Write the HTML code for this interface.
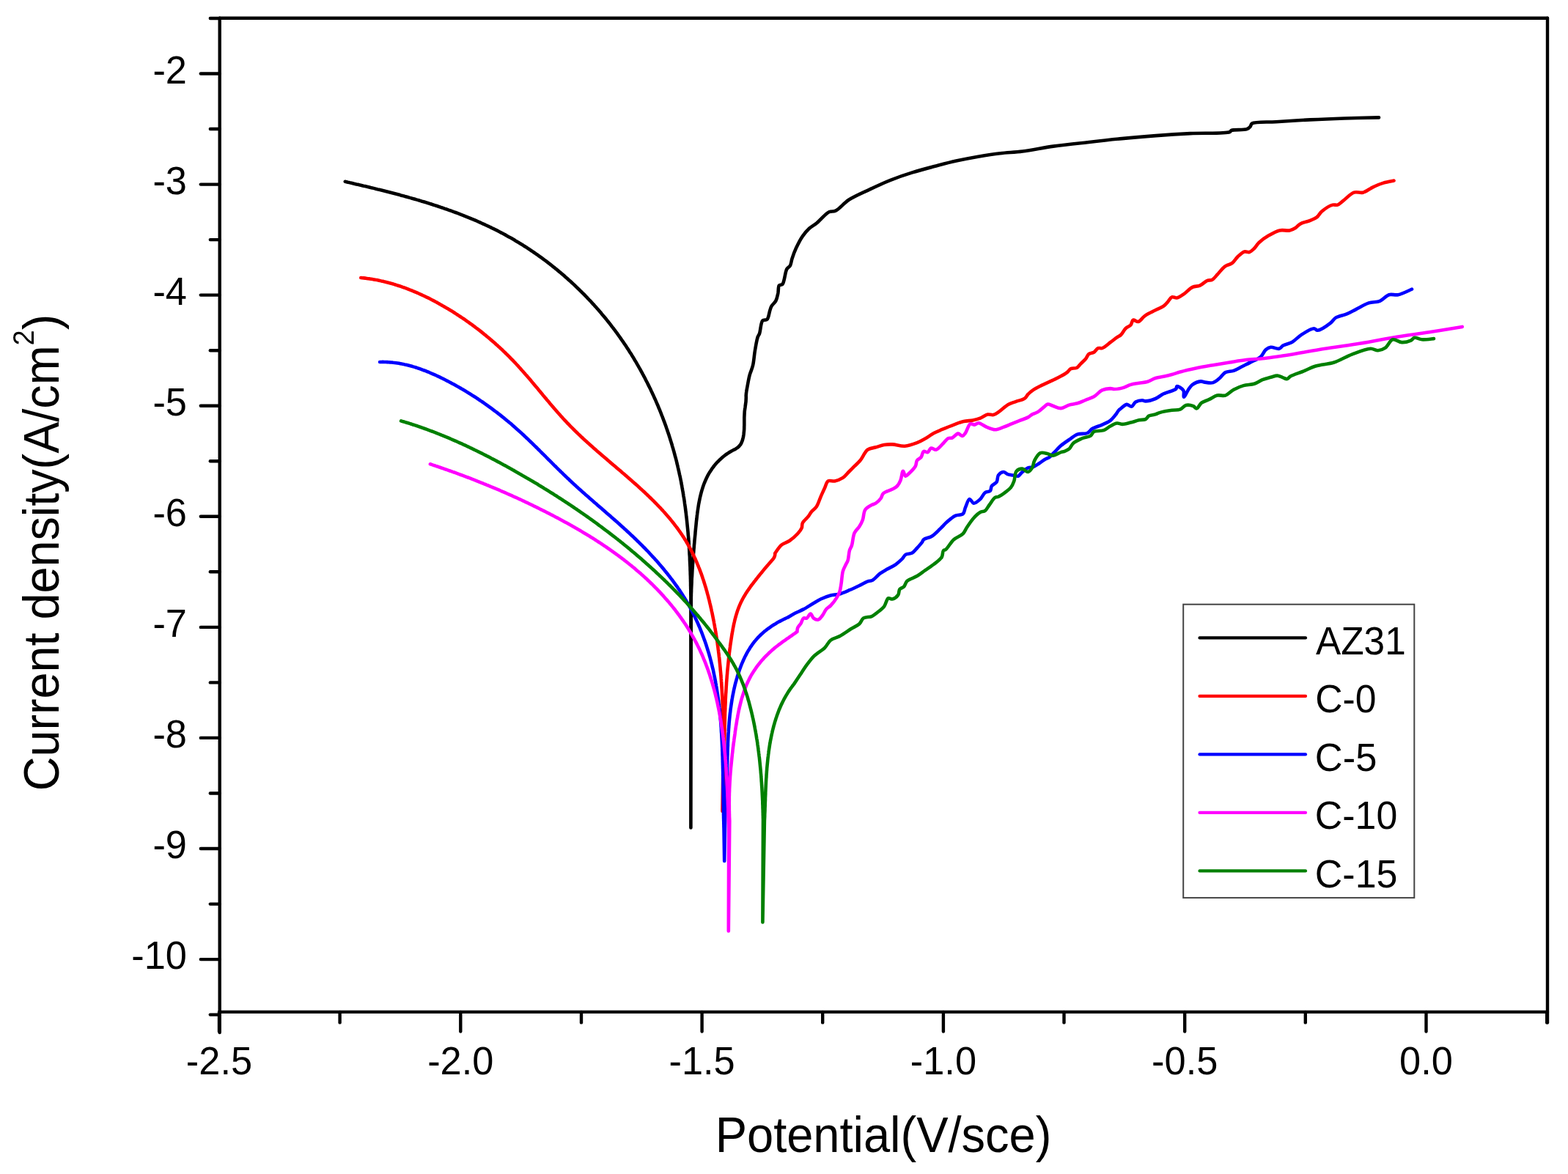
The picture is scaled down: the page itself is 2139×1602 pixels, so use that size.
<!DOCTYPE html>
<html><head><meta charset="utf-8"><title>Potentiodynamic polarization curves</title>
<style>
html,body{margin:0;padding:0;background:#fff;}
body{width:2139px;height:1602px;overflow:hidden;}
svg{display:block;}
text{font-family:'Liberation Sans', Arial, Helvetica, sans-serif;fill:#000;}
</style></head><body>
<svg width="2139" height="1602" viewBox="0 0 2139 1602">
<rect x="0" y="0" width="2139" height="1602" fill="#fff"/>

<g fill="none" stroke-width="4.6" stroke-linejoin="round" stroke-linecap="round">
<path stroke="#000000" d="M470.8,247.8 L472.7,248.2 L474.7,248.7 L476.6,249.1 L478.5,249.6 L480.5,250.0 L482.4,250.5 L484.3,250.9 L486.3,251.4 L488.2,251.8 L490.2,252.3 L492.1,252.7 L494.0,253.2 L496.0,253.7 L497.9,254.1 L499.9,254.6 L501.8,255.0 L503.8,255.5 L505.7,256.0 L507.7,256.4 L509.6,256.9 L511.5,257.4 L513.5,257.9 L515.4,258.4 L517.4,258.8 L519.3,259.3 L521.3,259.8 L523.2,260.3 L525.2,260.8 L527.1,261.3 L529.1,261.8 L531.0,262.3 L533.0,262.8 L534.9,263.3 L536.9,263.8 L538.8,264.3 L540.8,264.8 L542.7,265.3 L544.7,265.8 L546.6,266.4 L548.6,266.9 L550.5,267.4 L552.5,268.0 L554.4,268.5 L556.3,269.0 L558.3,269.6 L560.2,270.1 L562.2,270.7 L564.1,271.2 L566.0,271.8 L568.0,272.4 L569.9,272.9 L571.9,273.5 L573.8,274.1 L575.7,274.7 L577.7,275.2 L579.6,275.8 L581.5,276.4 L583.4,277.0 L585.4,277.6 L587.3,278.2 L589.2,278.8 L591.1,279.5 L593.1,280.1 L595.0,280.7 L596.9,281.3 L598.8,282.0 L600.7,282.6 L602.6,283.3 L604.5,283.9 L606.4,284.6 L608.3,285.2 L610.2,285.9 L612.1,286.6 L614.0,287.2 L615.9,287.9 L617.8,288.6 L619.7,289.3 L621.6,290.0 L623.5,290.7 L625.4,291.4 L627.2,292.1 L629.1,292.9 L631.0,293.6 L632.9,294.3 L634.7,295.1 L636.6,295.8 L638.5,296.6 L640.3,297.3 L642.2,298.1 L644.0,298.9 L645.9,299.6 L647.7,300.4 L649.6,301.2 L651.4,302.0 L653.3,302.8 L655.1,303.6 L656.9,304.5 L658.7,305.3 L660.6,306.1 L662.4,307.0 L664.2,307.8 L666.0,308.7 L667.8,309.5 L669.6,310.4 L671.4,311.3 L673.2,312.1 L675.0,313.0 L676.8,313.9 L678.6,314.8 L680.4,315.8 L682.2,316.7 L683.9,317.6 L685.7,318.5 L687.5,319.5 L689.2,320.4 L691.0,321.4 L692.7,322.4 L694.5,323.4 L696.2,324.3 L698.0,325.3 L699.7,326.3 L701.4,327.3 L703.1,328.4 L704.9,329.4 L706.6,330.4 L708.3,331.5 L710.0,332.5 L711.7,333.6 L713.4,334.6 L715.1,335.7 L716.8,336.8 L718.5,337.8 L720.1,338.9 L721.8,340.0 L723.5,341.1 L725.1,342.3 L726.8,343.4 L728.4,344.5 L730.1,345.7 L731.7,346.8 L733.4,347.9 L735.0,349.1 L736.6,350.3 L738.3,351.4 L739.9,352.6 L741.5,353.8 L743.1,355.0 L744.7,356.2 L746.3,357.4 L747.9,358.6 L749.5,359.8 L751.1,361.1 L752.6,362.3 L754.2,363.6 L755.8,364.8 L757.3,366.1 L758.9,367.3 L760.4,368.6 L762.0,369.9 L763.5,371.2 L765.1,372.4 L766.6,373.7 L768.1,375.0 L769.6,376.3 L771.1,377.7 L772.6,379.0 L774.1,380.3 L775.6,381.7 L777.1,383.0 L778.6,384.3 L780.1,385.7 L781.6,387.1 L783.0,388.4 L784.5,389.8 L785.9,391.2 L787.4,392.6 L788.8,394.0 L790.3,395.4 L791.7,396.8 L793.1,398.2 L794.5,399.6 L796.0,401.0 L797.4,402.4 L798.8,403.9 L800.2,405.3 L801.5,406.8 L802.9,408.2 L804.3,409.7 L805.7,411.1 L807.0,412.6 L808.4,414.1 L809.8,415.6 L811.1,417.1 L812.4,418.5 L813.8,420.0 L815.1,421.6 L816.4,423.1 L817.7,424.6 L819.0,426.1 L820.3,427.6 L821.6,429.2 L822.9,430.7 L824.2,432.2 L825.5,433.8 L826.7,435.3 L828.0,436.9 L829.3,438.5 L830.5,440.0 L831.8,441.6 L833.0,443.2 L834.2,444.8 L835.4,446.4 L836.7,448.0 L837.9,449.6 L839.1,451.2 L840.3,452.8 L841.5,454.4 L842.6,456.0 L843.8,457.7 L845.0,459.3 L846.1,460.9 L847.3,462.6 L848.4,464.2 L849.6,465.9 L850.7,467.5 L851.8,469.2 L853.0,470.8 L854.1,472.5 L855.2,474.2 L856.3,475.9 L857.4,477.5 L858.4,479.2 L859.5,480.9 L860.6,482.6 L861.7,484.3 L862.7,486.0 L863.8,487.7 L864.8,489.5 L865.8,491.2 L866.9,492.9 L867.9,494.6 L868.9,496.4 L869.9,498.1 L870.9,499.8 L871.9,501.6 L872.9,503.3 L873.9,505.1 L874.8,506.8 L875.8,508.6 L876.7,510.4 L877.7,512.1 L878.6,513.9 L879.6,515.7 L880.5,517.5 L881.4,519.3 L882.3,521.0 L883.2,522.8 L884.1,524.6 L885.0,526.4 L885.9,528.2 L886.8,530.0 L887.7,531.8 L888.5,533.7 L889.4,535.5 L890.2,537.3 L891.1,539.1 L891.9,540.9 L892.7,542.8 L893.6,544.6 L894.4,546.4 L895.2,548.3 L896.0,550.1 L896.8,552.0 L897.6,553.8 L898.3,555.7 L899.1,557.5 L899.9,559.4 L900.6,561.2 L901.4,563.1 L902.1,565.0 L902.8,566.8 L903.6,568.7 L904.3,570.6 L905.0,572.5 L905.7,574.4 L906.4,576.2 L907.1,578.1 L907.8,580.0 L908.5,581.9 L909.1,583.8 L909.8,585.7 L910.4,587.6 L911.1,589.5 L911.7,591.4 L912.4,593.3 L913.0,595.2 L913.6,597.1 L914.2,599.0 L914.8,601.0 L915.4,602.9 L916.0,604.8 L916.6,606.7 L917.1,608.6 L917.7,610.6 L918.3,612.5 L918.8,614.4 L919.4,616.4 L919.9,618.3 L920.4,620.2 L920.9,622.2 L921.5,624.1 L922.0,626.0 L922.5,628.0 L923.0,629.9 L923.4,631.9 L923.9,633.8 L924.4,635.8 L924.8,637.7 L925.3,639.7 L925.7,641.6 L926.2,643.6 L926.6,645.6 L927.0,647.5 L927.5,649.5 L927.9,651.4 L928.3,653.4 L928.7,655.4 L929.1,657.3 L929.4,659.3 L929.8,661.3 L930.2,663.2 L930.5,665.2 L930.9,667.2 L931.2,669.2 L931.6,671.1 L931.9,673.1 L932.2,675.1 L932.5,677.1 L932.9,679.0 L933.2,681.0 L933.5,683.0 L933.8,685.0 L934.0,687.0 L934.3,689.0 L934.6,690.9 L934.9,692.9 L935.1,694.9 L935.4,696.9 L935.6,698.9 L935.9,700.9 L936.1,702.9 L936.3,704.9 L936.6,706.9 L936.8,708.8 L937.0,710.8 L937.2,712.8 L937.4,714.8 L937.6,716.8 L937.8,718.8 L938.0,720.8 L938.2,722.8 L938.4,724.8 L938.6,726.8 L938.7,728.8 L938.9,730.8 L939.1,732.8 L939.2,734.8 L939.4,736.8 L939.5,738.8 L939.7,740.8 L939.8,742.8 L939.9,744.8 L940.1,746.8 L940.2,748.8 L940.3,750.8 L940.4,752.8 L940.5,754.8 L940.6,756.8 L940.8,758.9 L940.9,760.9 L940.9,762.9 L941.0,764.9 L941.1,766.9 L941.2,768.9 L941.3,770.9 L941.4,772.9 L941.5,774.9 L941.5,776.9 L941.6,778.9 L941.7,780.9 L941.7,782.9 L941.8,784.9 L941.9,786.9 L941.9,788.9 L942.0,790.9 L942.0,793.0 L942.1,795.0 L942.1,797.0 L942.1,799.0 L942.2,801.0 L942.2,803.0 L942.3,805.0 L942.3,807.0 L942.3,809.0 L942.3,811.0 L942.4,813.0 L942.4,815.0 L942.4,1129.5 L942.8,815.0 L942.8,815.0 L942.9,813.0 L942.9,810.9 L943.0,808.9 L943.1,806.8 L943.1,804.8 L943.2,802.8 L943.3,800.7 L943.4,798.7 L943.5,796.7 L943.6,794.7 L943.6,792.6 L943.7,790.6 L943.8,788.6 L944.0,786.6 L944.1,784.6 L944.2,782.6 L944.3,780.6 L944.4,778.6 L944.5,776.6 L944.7,774.6 L944.8,772.6 L944.9,770.6 L945.1,768.6 L945.2,766.6 L945.4,764.6 L945.5,762.6 L945.6,760.6 L945.8,758.6 L945.9,756.6 L946.1,754.6 L946.3,752.6 L946.4,750.6 L946.6,748.6 L946.8,746.6 L946.9,744.6 L947.1,742.6 L947.3,740.6 L947.4,738.6 L947.6,736.6 L947.8,734.6 L948.0,732.6 L948.2,730.6 L948.4,728.5 L948.5,726.5 L948.7,724.5 L948.9,722.5 L949.1,720.4 L949.3,718.4 L949.5,716.4 L949.7,714.3 L949.9,712.3 L950.1,710.3 L950.4,708.2 L950.6,706.2 L950.8,704.2 L951.1,702.1 L951.3,700.1 L951.6,698.1 L951.9,696.0 L952.2,694.0 L952.5,692.0 L952.8,690.0 L953.1,688.0 L953.5,686.0 L953.9,684.0 L954.3,682.0 L954.7,680.0 L955.1,678.1 L955.6,676.1 L956.1,674.1 L956.6,672.2 L957.1,670.3 L957.7,668.4 L958.3,666.4 L958.9,664.6 L959.5,662.7 L960.2,660.8 L960.9,659.0 L961.7,657.1 L962.5,655.3 L963.3,653.5 L964.1,651.7 L965.0,649.9 L965.9,648.2 L966.9,646.5 L967.9,644.7 L969.0,643.1 L970.1,641.4 L971.2,639.7 L972.4,638.1 L973.6,636.5 L974.8,634.9 L976.2,633.3 L977.5,631.8 L978.9,630.3 L980.4,628.8 L981.8,627.4 L983.4,626.0 L984.9,624.6 L986.5,623.3 L988.1,622.0 L989.8,620.7 L991.5,619.5 L993.2,618.4 L994.9,617.3 L996.6,616.2 L998.4,615.2 L1000.2,614.3 L1002.0,613.4 L1003.7,612.4 L1005.3,611.4 L1006.8,610.3 L1008.2,609.0 L1009.4,607.6 L1010.5,606.1 L1011.4,604.4 L1012.1,602.6 L1012.8,600.8 L1013.3,598.9 L1013.8,597.0 L1014.2,595.0 L1014.5,593.0 L1014.7,590.9 L1014.9,588.9 L1015.1,586.8 L1015.2,584.7 L1015.2,582.6 L1015.3,580.5 L1015.3,578.4 L1015.3,576.2 L1015.3,574.1 L1015.3,572.0 L1015.3,569.9 L1015.4,567.9 L1015.5,565.8 L1015.6,563.8 L1015.7,561.8 L1015.9,559.9 L1016.2,558.0 L1016.5,556.0 L1016.7,554.1 L1017.0,552.2 L1017.2,550.3 L1017.5,548.3 L1017.6,546.3 L1017.7,544.3 L1017.8,542.2 L1017.7,540.0 M1017.7,540.0 C1017.8,539.1 1017.9,536.7 1018.2,534.8 C1018.5,532.5 1019.0,530.2 1019.5,527.3 C1020.3,523.2 1021.2,517.1 1022.5,512.3 C1023.7,507.6 1025.8,503.9 1027.0,498.8 C1028.5,492.6 1028.8,484.5 1030.0,477.8 C1031.1,471.6 1032.3,463.8 1033.7,459.9 C1034.4,457.8 1035.2,457.5 1036.0,455.4 C1037.5,451.5 1037.7,440.1 1040.4,437.4 C1042.0,435.8 1044.9,437.3 1046.4,435.9 C1048.6,433.8 1049.1,427.2 1050.2,423.9 C1051.0,421.5 1051.3,419.9 1052.4,417.9 C1053.8,415.4 1056.9,413.3 1058.4,410.4 C1060.0,407.3 1060.6,403.4 1061.4,399.9 C1062.1,396.4 1061.4,391.3 1062.9,389.4 C1063.9,388.2 1066.1,389.3 1067.4,387.9 C1070.2,385.0 1070.9,371.2 1073.4,367.0 C1074.8,364.7 1076.8,364.5 1077.9,362.5 C1079.3,360.1 1079.4,356.5 1080.5,353.0 C1081.9,348.7 1083.7,343.5 1086.0,338.6 C1088.5,333.2 1091.7,326.8 1095.0,322.1 C1097.8,318.1 1100.6,314.7 1103.9,311.7 C1107.1,308.8 1110.6,307.3 1114.4,304.2 C1119.4,300.2 1125.9,291.6 1130.9,289.2 C1134.1,287.7 1136.5,289.2 1139.8,287.7 C1145.0,285.3 1150.9,277.3 1157.8,272.8 C1165.6,267.7 1175.4,263.7 1184.7,259.3 C1194.4,254.7 1204.6,249.8 1214.7,245.8 C1224.6,241.9 1234.6,238.5 1244.6,235.4 C1254.5,232.3 1264.5,229.7 1274.5,227.1 C1284.5,224.5 1294.4,221.8 1304.4,219.6 C1314.3,217.4 1324.3,215.4 1334.3,213.7 C1344.3,212.0 1354.2,210.4 1364.3,209.2 C1374.5,208.0 1384.0,207.9 1395.0,206.5 C1407.9,204.9 1422.5,201.6 1436.8,199.6 C1451.9,197.5 1467.9,195.9 1483.5,194.2 C1499.1,192.4 1514.7,190.6 1530.3,189.1 C1545.9,187.6 1561.4,186.3 1577.0,185.1 C1592.6,183.9 1607.7,182.9 1623.8,182.1 C1641.1,181.2 1671.4,182.8 1677.5,180.2 C1679.0,179.6 1678.5,178.5 1679.9,177.9 C1683.3,176.4 1696.5,177.8 1700.9,176.2 C1703.2,175.3 1704.4,174.1 1705.6,172.7 C1706.7,171.5 1706.2,169.6 1707.9,168.5 C1712.4,165.6 1728.7,167.0 1740.6,166.2 C1754.8,165.3 1771.8,164.2 1787.4,163.4 C1803.0,162.6 1818.5,162.0 1834.1,161.5 C1849.7,161.0 1873.2,160.6 1881.0,160.4"/>
<path stroke="#ff0000" d="M492.3,379.0 L494.3,379.2 L496.3,379.4 L498.3,379.6 L500.3,379.9 L502.3,380.2 L504.3,380.4 L506.2,380.7 L508.2,381.1 L510.2,381.4 L512.2,381.8 L514.1,382.1 L516.1,382.5 L518.1,382.9 L520.0,383.4 L522.0,383.8 L523.9,384.3 L525.8,384.7 L527.8,385.2 L529.7,385.7 L531.6,386.2 L533.6,386.8 L535.5,387.3 L537.4,387.9 L539.3,388.5 L541.2,389.1 L543.1,389.7 L545.0,390.3 L546.9,390.9 L548.8,391.6 L550.7,392.3 L552.6,392.9 L554.5,393.6 L556.3,394.3 L558.2,395.1 L560.1,395.8 L561.9,396.5 L563.8,397.3 L565.6,398.1 L567.5,398.9 L569.3,399.7 L571.2,400.5 L573.0,401.3 L574.8,402.1 L576.6,403.0 L578.5,403.8 L580.3,404.7 L582.1,405.6 L583.9,406.4 L585.7,407.3 L587.5,408.3 L589.3,409.2 L591.1,410.1 L592.8,411.0 L594.6,412.0 L596.4,412.9 L598.2,413.9 L599.9,414.9 L601.7,415.9 L603.4,416.9 L605.2,417.9 L606.9,418.9 L608.6,419.9 L610.4,420.9 L612.1,422.0 L613.8,423.0 L615.5,424.1 L617.2,425.1 L619.0,426.2 L620.7,427.3 L622.3,428.4 L624.0,429.5 L625.7,430.6 L627.4,431.7 L629.1,432.8 L630.7,433.9 L632.4,435.0 L634.1,436.2 L635.7,437.3 L637.3,438.5 L639.0,439.6 L640.6,440.8 L642.3,442.0 L643.9,443.2 L645.5,444.4 L647.1,445.5 L648.7,446.8 L650.3,448.0 L651.9,449.2 L653.5,450.4 L655.1,451.6 L656.7,452.9 L658.2,454.1 L659.8,455.4 L661.3,456.7 L662.9,457.9 L664.4,459.2 L666.0,460.5 L667.5,461.8 L669.0,463.1 L670.6,464.4 L672.1,465.7 L673.6,467.0 L675.1,468.3 L676.6,469.7 L678.1,471.0 L679.6,472.4 L681.1,473.7 L682.5,475.1 L684.0,476.4 L685.5,477.8 L686.9,479.2 L688.4,480.6 L689.8,482.0 L691.2,483.4 L692.7,484.8 L694.1,486.2 L695.5,487.6 L696.9,489.1 L698.3,490.5 L699.7,491.9 L701.1,493.4 L702.5,494.8 L703.8,496.3 L705.2,497.8 L706.6,499.2 L707.9,500.7 L709.3,502.2 L710.6,503.7 L711.9,505.2 L713.3,506.7 L714.6,508.2 L715.9,509.7 L717.2,511.2 L718.6,512.7 L719.9,514.3 L721.2,515.8 L722.5,517.3 L723.8,518.8 L725.1,520.4 L726.4,521.9 L727.7,523.4 L728.9,525.0 L730.2,526.5 L731.5,528.1 L732.8,529.6 L734.1,531.1 L735.4,532.7 L736.7,534.2 L737.9,535.8 L739.2,537.3 L740.5,538.9 L741.8,540.4 L743.1,542.0 L744.4,543.5 L745.6,545.0 L746.9,546.6 L748.2,548.1 L749.5,549.6 L750.8,551.2 L752.1,552.7 L753.4,554.2 L754.7,555.7 L756.0,557.3 L757.3,558.8 L758.6,560.3 L759.9,561.8 L761.2,563.3 L762.6,564.8 L763.9,566.3 L765.2,567.8 L766.6,569.2 L767.9,570.7 L769.3,572.2 L770.6,573.7 L772.0,575.1 L773.3,576.6 L774.7,578.0 L776.1,579.4 L777.5,580.9 L778.9,582.3 L780.3,583.7 L781.7,585.1 L783.1,586.5 L784.5,587.9 L785.9,589.3 L787.4,590.7 L788.8,592.1 L790.2,593.4 L791.7,594.8 L793.1,596.2 L794.6,597.5 L796.0,598.9 L797.5,600.2 L799.0,601.6 L800.5,602.9 L801.9,604.3 L803.4,605.6 L804.9,606.9 L806.4,608.3 L807.9,609.6 L809.4,610.9 L810.9,612.2 L812.4,613.5 L813.9,614.9 L815.4,616.2 L816.9,617.5 L818.4,618.8 L819.9,620.1 L821.4,621.4 L823.0,622.7 L824.5,624.0 L826.0,625.3 L827.5,626.6 L829.1,628.0 L830.6,629.3 L832.1,630.6 L833.7,631.9 L835.2,633.2 L836.7,634.5 L838.3,635.8 L839.8,637.1 L841.3,638.4 L842.9,639.7 L844.4,641.0 L846.0,642.3 L847.5,643.6 L849.0,645.0 L850.6,646.3 L852.1,647.6 L853.6,648.9 L855.2,650.2 L856.7,651.6 L858.2,652.9 L859.8,654.2 L861.3,655.6 L862.8,656.9 L864.3,658.2 L865.8,659.6 L867.4,660.9 L868.9,662.3 L870.4,663.6 L871.9,665.0 L873.4,666.4 L874.9,667.7 L876.4,669.1 L877.9,670.5 L879.3,671.8 L880.8,673.2 L882.3,674.6 L883.7,676.0 L885.2,677.4 L886.6,678.8 L888.1,680.2 L889.5,681.6 L891.0,683.0 L892.4,684.5 L893.8,685.9 L895.2,687.3 L896.6,688.8 L898.0,690.2 L899.4,691.7 L900.8,693.1 L902.1,694.6 L903.5,696.0 L904.8,697.5 L906.2,699.0 L907.5,700.5 L908.8,702.0 L910.1,703.5 L911.4,705.0 L912.7,706.5 L914.0,708.0 L915.3,709.6 L916.5,711.1 L917.8,712.7 L919.0,714.2 L920.2,715.8 L921.4,717.4 L922.6,718.9 L923.8,720.5 L925.0,722.1 L926.1,723.7 L927.3,725.4 L928.4,727.0 L929.5,728.6 L930.6,730.3 L931.7,731.9 L932.8,733.6 L933.8,735.2 L934.9,736.9 L935.9,738.6 L936.9,740.3 L937.9,742.0 L938.9,743.8 L939.9,745.5 L940.8,747.2 L941.7,749.0 L942.7,750.7 L943.6,752.5 L944.5,754.3 L945.3,756.1 L946.2,757.9 L947.0,759.7 L947.9,761.5 L948.7,763.3 L949.5,765.1 L950.3,766.9 L951.1,768.8 L951.8,770.6 L952.6,772.5 L953.3,774.3 L954.1,776.2 L954.8,778.1 L955.5,780.0 L956.2,781.9 L956.9,783.7 L957.5,785.6 L958.2,787.5 L958.8,789.5 L959.5,791.4 L960.1,793.3 L960.7,795.2 L961.3,797.1 L961.9,799.1 L962.5,801.0 L963.1,802.9 L963.6,804.9 L964.2,806.8 L964.7,808.8 L965.2,810.7 L965.8,812.7 L966.3,814.6 L966.8,816.6 L967.3,818.5 L967.8,820.5 L968.2,822.5 L968.7,824.4 L969.2,826.4 L969.6,828.4 L970.1,830.4 L970.5,832.3 L970.9,834.3 L971.4,836.3 L971.8,838.2 L972.2,840.2 L972.6,842.2 L973.0,844.2 L973.4,846.2 L973.8,848.1 L974.1,850.1 L974.5,852.1 L974.9,854.1 L975.2,856.1 L975.6,858.0 L975.9,860.0 L976.2,862.0 L976.6,864.0 L976.9,866.0 L977.2,868.0 L977.5,869.9 L977.8,871.9 L978.1,873.9 L978.4,875.9 L978.7,877.9 L978.9,879.9 L979.2,881.9 L979.5,883.9 L979.7,885.8 L980.0,887.8 L980.2,889.8 L980.5,891.8 L980.7,893.8 L980.9,895.8 L981.2,897.8 L981.4,899.8 L981.6,901.8 L981.8,903.8 L982.0,905.8 L982.2,907.8 L982.4,909.8 L982.6,911.8 L982.7,913.8 L982.9,915.8 L983.1,917.8 L983.3,919.8 L983.4,921.8 L983.6,923.7 L983.7,925.7 L983.9,927.7 L984.0,929.7 L984.2,931.7 L984.3,933.7 L984.4,935.7 L984.5,937.8 L984.7,939.8 L984.8,941.8 L984.9,943.8 L985.0,945.8 L985.1,947.8 L985.2,949.8 L985.3,951.8 L985.4,953.8 L985.5,955.8 L985.6,957.8 L985.6,959.8 L985.7,961.8 L985.8,963.8 L985.9,965.8 L985.9,967.8 L986.0,969.8 L986.0,971.8 L986.1,973.8 L986.2,975.8 L986.2,977.8 L986.2,979.8 L986.3,981.8 L986.3,983.8 L986.4,985.8 L986.4,987.8 L986.4,989.8 L986.5,991.9 L986.5,993.9 L986.5,995.9 L986.5,997.9 L986.5,999.9 L986.6,1001.9 L986.6,1003.9 L986.6,1005.9 L986.6,1007.9 L986.6,1009.9 L986.6,1011.9 L986.6,1013.9 L986.6,1015.9 L986.6,1017.9 L986.6,1019.9 L986.6,1021.9 L986.6,1023.9 L986.6,1025.9 L986.6,1028.0 L986.6,1030.0 L986.5,1032.0 L986.5,1034.0 L986.5,1036.0 L986.5,1038.0 L986.5,1040.0 L986.4,1042.0 L986.4,1044.0 L986.4,1046.0 L986.4,1048.0 L986.3,1050.0 L986.3,1052.0 L986.3,1054.0 L986.3,1056.0 L986.2,1058.0 L986.2,1060.0 L985.5,1107.0 L987.8,1060.0 L987.8,1060.0 L987.8,1058.0 L987.8,1056.0 L987.9,1053.9 L987.9,1051.9 L987.9,1049.9 L987.9,1047.9 L987.9,1045.8 L987.9,1043.8 L987.9,1041.8 L988.0,1039.8 L988.0,1037.8 L988.0,1035.7 L988.0,1033.7 L988.0,1031.7 L988.0,1029.7 L988.1,1027.7 L988.1,1025.6 L988.1,1023.6 L988.1,1021.6 L988.1,1019.6 L988.2,1017.6 L988.2,1015.6 L988.2,1013.5 L988.2,1011.5 L988.3,1009.5 L988.3,1007.5 L988.3,1005.5 L988.4,1003.5 L988.4,1001.4 L988.4,999.4 L988.5,997.4 L988.5,995.4 L988.5,993.4 L988.6,991.4 L988.6,989.4 L988.7,987.3 L988.7,985.3 L988.8,983.3 L988.8,981.3 L988.9,979.3 L988.9,977.3 L989.0,975.3 L989.0,973.2 L989.1,971.2 L989.2,969.2 L989.3,967.2 L989.3,965.2 L989.4,963.2 L989.5,961.2 L989.6,959.2 L989.7,957.1 L989.7,955.1 L989.8,953.1 L989.9,951.1 L990.0,949.1 L990.1,947.1 L990.3,945.1 L990.4,943.1 L990.5,941.1 L990.6,939.1 L990.7,937.0 L990.9,935.0 L991.0,933.0 L991.1,931.0 L991.3,929.0 L991.4,927.0 L991.6,925.0 L991.7,923.0 L991.9,921.0 L992.1,919.0 L992.2,917.0 L992.4,914.9 L992.6,912.9 L992.8,910.9 L993.0,908.9 L993.2,906.9 L993.4,904.9 L993.6,902.9 L993.8,900.9 L994.0,898.9 L994.2,896.9 L994.5,894.9 L994.7,892.9 L994.9,890.8 L995.2,888.8 L995.4,886.8 L995.7,884.8 L996.0,882.8 L996.2,880.8 L996.5,878.8 L996.8,876.8 L997.1,874.8 L997.4,872.8 L997.7,870.8 L998.0,868.8 L998.3,866.8 L998.7,864.8 L999.0,862.8 L999.4,860.7 L999.7,858.8 L1000.1,856.8 L1000.5,854.8 L1000.9,852.8 L1001.3,850.8 L1001.8,848.8 L1002.2,846.9 L1002.7,844.9 L1003.2,843.0 L1003.8,841.0 L1004.3,839.1 L1004.9,837.2 L1005.5,835.3 L1006.1,833.4 L1006.8,831.5 L1007.5,829.6 L1008.2,827.8 L1009.0,825.9 L1009.8,824.1 L1010.6,822.3 L1011.5,820.5 L1012.4,818.7 L1013.3,817.0 L1014.3,815.2 L1015.3,813.5 L1016.3,811.8 L1017.3,810.1 L1018.4,808.4 L1019.5,806.7 L1020.7,805.1 L1021.8,803.4 L1023.0,801.8 L1024.1,800.1 L1025.3,798.5 L1026.6,796.9 L1027.8,795.3 L1029.0,793.7 L1030.3,792.1 L1031.5,790.5 L1032.8,788.9 L1034.1,787.3 L1035.3,785.7 L1036.6,784.1 L1037.9,782.6 L1039.2,781.0 L1040.5,779.4 L1041.7,777.9 L1043.0,776.3 L1044.3,774.8 L1045.6,773.3 L1046.9,771.7 L1048.2,770.2 L1049.5,768.7 L1050.8,767.2 L1052.1,765.7 L1053.4,764.2 L1054.7,762.7 L1055.8,761.1 L1056.7,759.3 L1057.2,757.3 L1057.3,755.0 M1057.3,755.0 C1058.7,753.2 1062.3,746.9 1065.6,744.0 C1068.8,741.2 1073.3,740.5 1076.9,738.0 C1080.8,735.3 1085.2,731.5 1088.1,728.3 C1090.5,725.7 1092.6,723.1 1093.7,720.4 C1094.6,718.2 1093.7,715.9 1094.8,713.7 C1096.2,710.7 1100.5,707.5 1102.7,704.7 C1104.5,702.4 1105.4,700.2 1107.2,698.0 C1109.1,695.6 1112.0,694.1 1113.9,691.2 C1116.3,687.7 1117.7,682.2 1119.6,677.8 C1121.5,673.6 1123.4,669.2 1125.2,665.4 C1126.7,662.1 1127.3,657.9 1129.7,656.4 C1131.9,655.0 1135.6,657.0 1138.7,656.4 C1142.3,655.7 1146.7,654.0 1149.9,651.9 C1153.0,649.9 1155.2,646.6 1157.8,644.0 C1160.4,641.4 1163.0,638.8 1165.6,636.2 C1168.2,633.6 1170.9,631.5 1173.5,628.3 C1176.8,624.3 1179.6,616.7 1183.6,613.7 C1186.9,611.3 1191.1,611.4 1194.8,610.3 C1198.6,609.2 1202.3,607.6 1206.1,607.0 C1209.8,606.4 1213.2,606.2 1217.3,606.4 C1222.4,606.6 1228.6,609.1 1234.2,608.7 C1239.8,608.3 1246.1,606.1 1251.0,604.2 C1255.2,602.6 1258.5,600.6 1262.2,598.5 C1266.0,596.3 1269.7,593.3 1273.5,591.2 C1277.2,589.2 1280.6,587.9 1284.7,586.2 C1289.7,584.1 1295.9,581.5 1301.2,579.6 C1305.9,577.9 1310.2,576.1 1314.7,575.1 C1318.9,574.1 1323.2,574.2 1327.1,573.4 C1330.7,572.7 1333.9,571.9 1337.2,570.6 C1340.6,569.3 1344.1,566.1 1347.3,565.5 C1350.0,565.0 1352.7,566.7 1355.2,566.1 C1357.9,565.5 1360.2,563.5 1363.0,561.6 C1366.7,559.1 1371.3,554.3 1375.4,552.0 C1378.8,550.1 1382.0,549.4 1385.5,548.1 C1389.4,546.6 1395.0,545.7 1397.9,543.6 C1400.1,542.1 1400.6,539.8 1402.4,538.0 C1404.3,536.0 1406.5,534.2 1409.1,532.4 C1412.0,530.4 1415.4,528.7 1419.2,526.7 C1424.1,524.2 1431.1,521.3 1436.1,518.9 C1440.2,516.9 1443.8,515.3 1447.3,513.3 C1450.5,511.5 1453.9,509.5 1456.3,507.6 C1458.2,506.1 1458.9,504.0 1460.8,503.1 C1462.9,502.0 1466.4,503.1 1468.7,502.0 C1470.9,500.9 1472.3,498.4 1474.3,496.4 C1476.4,494.3 1479.1,492.0 1481.0,489.7 C1482.8,487.5 1483.5,484.4 1485.5,482.9 C1487.3,481.5 1490.2,481.9 1492.2,480.7 C1494.3,479.4 1495.8,476.0 1497.9,475.1 C1499.6,474.4 1501.4,475.8 1503.5,475.1 C1506.7,474.1 1511.2,469.8 1514.7,467.2 C1517.9,464.9 1521.1,462.2 1523.7,460.4 C1525.7,459.0 1527.3,458.6 1529.0,457.0 C1531.3,454.9 1533.2,450.3 1535.7,448.0 C1537.8,446.0 1540.8,445.4 1542.5,443.5 C1544.1,441.6 1544.1,437.4 1545.8,436.7 C1547.5,436.0 1550.4,439.4 1552.6,439.0 C1555.3,438.5 1558.1,434.0 1560.4,432.2 C1562.1,430.9 1563.0,430.1 1564.9,428.9 C1567.8,427.2 1572.4,425.2 1576.2,423.3 C1579.9,421.4 1584.4,419.8 1587.4,417.6 C1589.8,415.9 1591.2,414.0 1593.0,412.0 C1594.9,409.9 1596.5,406.1 1598.7,405.3 C1600.7,404.6 1603.0,406.8 1605.4,406.4 C1608.5,405.9 1612.1,403.1 1615.5,400.8 C1619.2,398.3 1622.8,393.6 1626.7,391.8 C1630.0,390.2 1633.6,391.0 1636.9,389.6 C1640.4,388.1 1643.8,384.1 1647.0,382.8 C1649.4,381.9 1651.6,382.8 1653.7,381.7 C1656.2,380.4 1658.1,377.4 1660.4,374.9 C1663.0,372.2 1665.9,368.2 1668.3,366.0 C1669.9,364.5 1671.0,363.6 1672.8,362.6 C1675.0,361.3 1678.3,361.0 1680.7,359.2 C1683.6,357.1 1685.7,352.8 1688.5,350.2 C1691.3,347.6 1694.6,344.4 1697.5,343.5 C1699.8,342.8 1702.2,344.6 1704.3,344.0 C1706.7,343.3 1708.9,341.0 1711.0,339.0 C1713.3,336.8 1714.7,333.6 1717.5,331.0 C1721.1,327.6 1726.4,323.9 1731.2,321.1 C1735.9,318.4 1740.9,315.5 1745.8,314.4 C1750.3,313.4 1755.5,315.2 1759.3,314.4 C1762.4,313.8 1764.8,312.5 1767.2,311.0 C1769.6,309.5 1771.1,307.0 1773.9,305.4 C1777.5,303.4 1783.4,302.6 1787.4,300.9 C1790.8,299.5 1793.8,298.4 1796.4,296.4 C1799.0,294.3 1800.2,291.0 1803.1,288.5 C1806.9,285.3 1813.7,280.7 1817.8,279.6 C1820.4,278.9 1822.3,280.3 1824.5,279.6 C1827.2,278.7 1829.4,276.1 1832.4,273.9 C1836.5,270.8 1842.1,264.4 1847.0,262.7 C1851.0,261.3 1855.2,263.7 1859.3,262.7 C1863.9,261.5 1868.3,257.5 1873.0,255.3 C1877.6,253.1 1882.4,251.1 1887.2,249.6 C1891.9,248.2 1899.1,247.0 1901.5,246.5"/>
<path stroke="#0000ff" d="M518.1,494.0 L520.2,494.0 L522.2,493.9 L524.2,494.0 L526.3,494.0 L528.3,494.1 L530.3,494.2 L532.3,494.4 L534.3,494.5 L536.3,494.8 L538.3,495.0 L540.3,495.2 L542.3,495.5 L544.3,495.8 L546.2,496.2 L548.2,496.6 L550.2,496.9 L552.1,497.4 L554.0,497.8 L556.0,498.3 L557.9,498.8 L559.8,499.3 L561.8,499.8 L563.7,500.4 L565.6,500.9 L567.5,501.5 L569.4,502.1 L571.3,502.8 L573.2,503.4 L575.0,504.1 L576.9,504.8 L578.8,505.5 L580.7,506.2 L582.5,507.0 L584.4,507.7 L586.2,508.5 L588.1,509.3 L589.9,510.1 L591.7,510.9 L593.6,511.7 L595.4,512.5 L597.2,513.4 L599.0,514.2 L600.9,515.1 L602.7,516.0 L604.5,516.9 L606.3,517.8 L608.1,518.7 L609.8,519.6 L611.6,520.5 L613.4,521.5 L615.2,522.4 L617.0,523.4 L618.7,524.3 L620.5,525.3 L622.2,526.3 L624.0,527.3 L625.8,528.2 L627.5,529.2 L629.2,530.3 L631.0,531.3 L632.7,532.3 L634.4,533.3 L636.2,534.4 L637.9,535.4 L639.6,536.5 L641.3,537.5 L643.0,538.6 L644.7,539.7 L646.4,540.7 L648.1,541.8 L649.8,542.9 L651.4,544.0 L653.1,545.2 L654.8,546.3 L656.4,547.4 L658.1,548.5 L659.8,549.7 L661.4,550.8 L663.0,552.0 L664.7,553.1 L666.3,554.3 L667.9,555.5 L669.6,556.7 L671.2,557.9 L672.8,559.1 L674.4,560.3 L676.0,561.5 L677.6,562.7 L679.2,563.9 L680.8,565.2 L682.4,566.4 L683.9,567.6 L685.5,568.9 L687.1,570.1 L688.6,571.4 L690.2,572.7 L691.7,574.0 L693.3,575.2 L694.8,576.5 L696.4,577.8 L697.9,579.1 L699.4,580.4 L700.9,581.7 L702.4,583.1 L703.9,584.4 L705.4,585.7 L706.9,587.1 L708.4,588.4 L709.9,589.8 L711.4,591.1 L712.9,592.5 L714.3,593.8 L715.8,595.2 L717.3,596.6 L718.7,598.0 L720.2,599.3 L721.6,600.7 L723.1,602.1 L724.5,603.5 L726.0,604.9 L727.4,606.3 L728.8,607.7 L730.3,609.1 L731.7,610.5 L733.1,611.9 L734.5,613.3 L736.0,614.7 L737.4,616.2 L738.8,617.6 L740.2,619.0 L741.7,620.4 L743.1,621.8 L744.5,623.2 L745.9,624.7 L747.3,626.1 L748.7,627.5 L750.2,628.9 L751.6,630.3 L753.0,631.7 L754.4,633.2 L755.8,634.6 L757.3,636.0 L758.7,637.4 L760.1,638.8 L761.5,640.2 L763.0,641.6 L764.4,643.0 L765.8,644.4 L767.3,645.8 L768.7,647.2 L770.2,648.6 L771.6,650.0 L773.1,651.4 L774.5,652.8 L776.0,654.1 L777.4,655.5 L778.9,656.9 L780.3,658.2 L781.8,659.6 L783.3,661.0 L784.8,662.3 L786.2,663.7 L787.7,665.0 L789.2,666.4 L790.7,667.7 L792.2,669.0 L793.7,670.4 L795.2,671.7 L796.7,673.0 L798.2,674.4 L799.7,675.7 L801.2,677.0 L802.7,678.3 L804.2,679.7 L805.7,681.0 L807.2,682.3 L808.7,683.6 L810.2,684.9 L811.7,686.2 L813.3,687.5 L814.8,688.9 L816.3,690.2 L817.8,691.5 L819.3,692.8 L820.8,694.1 L822.3,695.4 L823.9,696.7 L825.4,698.1 L826.9,699.4 L828.4,700.7 L829.9,702.0 L831.4,703.3 L832.9,704.6 L834.4,706.0 L835.9,707.3 L837.4,708.6 L839.0,709.9 L840.5,711.3 L842.0,712.6 L843.5,713.9 L845.0,715.3 L846.4,716.6 L847.9,717.9 L849.4,719.3 L850.9,720.6 L852.4,722.0 L853.9,723.3 L855.4,724.7 L856.8,726.0 L858.3,727.4 L859.8,728.8 L861.2,730.2 L862.7,731.5 L864.2,732.9 L865.6,734.3 L867.1,735.7 L868.5,737.1 L869.9,738.5 L871.4,739.9 L872.8,741.3 L874.2,742.7 L875.7,744.1 L877.1,745.6 L878.5,747.0 L879.9,748.4 L881.3,749.9 L882.7,751.3 L884.1,752.8 L885.5,754.3 L886.8,755.7 L888.2,757.2 L889.6,758.7 L890.9,760.2 L892.3,761.6 L893.6,763.1 L895.0,764.6 L896.3,766.1 L897.6,767.6 L899.0,769.2 L900.3,770.7 L901.6,772.2 L902.9,773.7 L904.2,775.3 L905.4,776.8 L906.7,778.4 L908.0,779.9 L909.2,781.5 L910.5,783.0 L911.7,784.6 L913.0,786.2 L914.2,787.8 L915.4,789.4 L916.6,790.9 L917.8,792.5 L919.0,794.2 L920.2,795.8 L921.3,797.4 L922.5,799.0 L923.7,800.6 L924.8,802.3 L925.9,803.9 L927.1,805.5 L928.2,807.2 L929.3,808.9 L930.3,810.5 L931.4,812.2 L932.5,813.9 L933.5,815.6 L934.6,817.3 L935.6,819.0 L936.6,820.7 L937.7,822.4 L938.6,824.2 L939.6,825.9 L940.6,827.7 L941.6,829.4 L942.5,831.2 L943.5,833.0 L944.4,834.8 L945.3,836.5 L946.2,838.3 L947.1,840.1 L948.0,842.0 L948.8,843.8 L949.7,845.6 L950.5,847.4 L951.4,849.3 L952.2,851.1 L953.0,853.0 L953.8,854.8 L954.6,856.7 L955.3,858.5 L956.1,860.4 L956.9,862.3 L957.6,864.1 L958.3,866.0 L959.0,867.9 L959.7,869.8 L960.4,871.7 L961.1,873.6 L961.8,875.5 L962.4,877.4 L963.1,879.3 L963.7,881.2 L964.3,883.1 L964.9,885.0 L965.5,887.0 L966.1,888.9 L966.7,890.8 L967.3,892.7 L967.8,894.7 L968.4,896.6 L968.9,898.5 L969.4,900.5 L969.9,902.4 L970.4,904.3 L970.9,906.3 L971.4,908.2 L971.8,910.2 L972.3,912.1 L972.8,914.0 L973.2,916.0 L973.6,918.0 L974.0,919.9 L974.4,921.9 L974.8,923.8 L975.2,925.8 L975.6,927.7 L976.0,929.7 L976.3,931.7 L976.7,933.6 L977.0,935.6 L977.4,937.6 L977.7,939.5 L978.0,941.5 L978.3,943.5 L978.6,945.5 L978.9,947.4 L979.2,949.4 L979.5,951.4 L979.8,953.4 L980.0,955.4 L980.3,957.4 L980.5,959.3 L980.8,961.3 L981.0,963.3 L981.2,965.3 L981.5,967.3 L981.7,969.3 L981.9,971.3 L982.1,973.3 L982.3,975.3 L982.5,977.3 L982.6,979.3 L982.8,981.3 L983.0,983.3 L983.2,985.3 L983.3,987.3 L983.5,989.3 L983.6,991.3 L983.8,993.3 L983.9,995.3 L984.0,997.3 L984.1,999.3 L984.3,1001.3 L984.4,1003.3 L984.5,1005.3 L984.6,1007.3 L984.7,1009.3 L984.8,1011.3 L984.9,1013.3 L985.0,1015.3 L985.1,1017.4 L985.2,1019.4 L985.3,1021.4 L985.3,1023.4 L985.4,1025.4 L985.5,1027.4 L985.5,1029.4 L985.6,1031.4 L985.7,1033.5 L985.7,1035.5 L985.8,1037.5 L985.8,1039.5 L985.9,1041.5 L985.9,1043.5 L986.0,1045.5 L986.0,1047.6 L986.1,1049.6 L986.1,1051.6 L986.2,1053.6 L986.2,1055.6 L986.2,1057.6 L986.3,1059.6 L986.3,1061.7 L986.3,1063.7 L986.4,1065.7 L986.4,1067.7 L986.4,1069.7 L986.4,1071.7 L986.5,1073.7 L986.5,1075.7 L986.5,1077.8 L986.5,1079.8 L986.6,1081.8 L986.6,1083.8 L986.6,1085.8 L986.7,1087.8 L986.7,1089.8 L986.7,1091.8 L986.7,1093.8 L986.8,1095.8 L986.8,1097.8 L986.8,1099.8 L986.9,1101.8 L986.9,1103.8 L986.9,1105.8 L987.0,1107.8 L987.0,1109.9 L987.0,1111.8 L987.1,1113.8 L987.1,1115.8 L987.2,1117.8 L987.2,1119.8 L987.3,1121.8 L987.3,1123.8 L987.4,1125.8 L987.4,1127.8 L987.5,1129.8 L988.2,1175.0 L989.5,1100.0 L989.5,1100.0 L989.7,1098.0 L989.8,1096.0 L990.0,1094.0 L990.1,1092.0 L990.2,1090.0 L990.4,1088.0 L990.5,1086.0 L990.6,1084.0 L990.7,1082.0 L990.8,1079.9 L990.9,1077.9 L991.0,1075.9 L991.1,1073.9 L991.2,1071.9 L991.3,1069.8 L991.3,1067.8 L991.4,1065.8 L991.5,1063.8 L991.6,1061.7 L991.6,1059.7 L991.7,1057.7 L991.7,1055.7 L991.8,1053.6 L991.8,1051.6 L991.9,1049.6 L992.0,1047.5 L992.0,1045.5 L992.1,1043.5 L992.1,1041.4 L992.2,1039.4 L992.2,1037.4 L992.3,1035.3 L992.3,1033.3 L992.4,1031.2 L992.5,1029.2 L992.5,1027.2 L992.6,1025.1 L992.6,1023.1 L992.7,1021.1 L992.8,1019.0 L992.9,1017.0 L992.9,1015.0 L993.0,1012.9 L993.1,1010.9 L993.2,1008.9 L993.3,1006.8 L993.4,1004.8 L993.5,1002.8 L993.6,1000.7 L993.8,998.7 L993.9,996.7 L994.0,994.6 L994.2,992.6 L994.3,990.6 L994.5,988.6 L994.6,986.5 L994.8,984.5 L995.0,982.5 L995.2,980.5 L995.4,978.5 L995.6,976.4 L995.8,974.4 L996.1,972.4 L996.3,970.4 L996.5,968.4 L996.8,966.4 L997.1,964.4 L997.4,962.4 L997.7,960.4 L998.0,958.4 L998.3,956.4 L998.6,954.4 L999.0,952.4 L999.3,950.4 L999.7,948.5 L1000.1,946.5 L1000.5,944.5 L1000.9,942.5 L1001.3,940.5 L1001.8,938.6 L1002.2,936.6 L1002.7,934.6 L1003.2,932.7 L1003.7,930.7 L1004.3,928.8 L1004.8,926.8 L1005.4,924.9 L1005.9,922.9 L1006.5,921.0 L1007.1,919.0 L1007.8,917.1 L1008.4,915.2 L1009.1,913.3 L1009.8,911.4 L1010.5,909.5 L1011.2,907.6 L1012.0,905.7 L1012.8,903.8 L1013.6,902.0 L1014.4,900.1 L1015.3,898.3 L1016.1,896.5 L1017.1,894.7 L1018.0,892.9 L1018.9,891.2 L1019.9,889.4 L1020.9,887.7 L1022.0,886.0 L1023.0,884.3 L1024.1,882.6 L1025.3,880.9 L1026.4,879.3 L1027.6,877.7 L1028.8,876.1 L1030.1,874.6 L1031.4,873.0 L1032.7,871.5 L1034.0,870.0 L1035.4,868.6 L1036.8,867.2 L1038.3,865.8 L1039.8,864.4 L1041.3,863.1 L1042.8,861.7 L1044.4,860.5 L1046.0,859.2 L1047.6,858.0 L1049.3,856.8 L1051.0,855.6 L1052.7,854.4 L1054.4,853.3 L1056.1,852.2 L1057.9,851.2 L1059.6,850.1 L1061.4,849.1 L1063.2,848.1 L1065.1,847.1 L1066.9,846.2 L1068.7,845.3 L1070.6,844.4 L1072.4,843.5 L1074.3,842.7 M1074.3,842.7 C1076.1,841.7 1081.4,838.4 1085.0,836.5 C1088.6,834.6 1092.3,833.4 1096.1,831.4 C1100.3,829.2 1105.1,825.9 1109.2,823.5 C1112.9,821.3 1115.8,819.3 1119.6,817.5 C1123.7,815.6 1128.7,813.6 1133.0,812.5 C1136.9,811.5 1140.4,811.8 1144.3,810.8 C1148.9,809.6 1154.2,807.2 1158.9,805.2 C1163.5,803.3 1168.1,801.0 1172.4,799.0 C1176.3,797.1 1180.3,794.6 1183.6,793.4 C1186.1,792.5 1188.0,792.9 1190.3,791.7 C1193.5,790.0 1197.0,785.2 1200.4,782.7 C1203.4,780.5 1206.1,779.0 1209.4,777.1 C1213.2,774.9 1218.1,772.9 1221.8,770.3 C1225.2,767.9 1228.4,765.0 1230.8,762.5 C1232.7,760.6 1233.3,758.2 1235.3,756.9 C1237.6,755.4 1241.7,756.1 1244.3,754.6 C1246.9,753.1 1248.8,750.3 1251.0,747.9 C1253.3,745.4 1256.2,742.2 1257.8,740.0 C1258.8,738.6 1258.7,737.3 1260.0,736.2 C1262.2,734.3 1267.6,733.9 1271.2,731.7 C1275.2,729.2 1279.1,724.8 1282.5,721.6 C1285.4,718.9 1287.8,716.1 1290.3,713.7 C1292.5,711.6 1294.5,709.8 1296.7,708.1 C1298.9,706.4 1300.9,704.7 1303.5,703.6 C1306.4,702.3 1311.3,703.3 1313.6,701.3 C1315.8,699.4 1315.6,695.5 1317.0,692.4 C1318.6,688.8 1320.5,681.5 1322.6,681.1 C1324.3,680.8 1326.0,686.4 1328.2,686.7 C1330.7,687.0 1334.6,683.5 1337.2,681.1 C1339.9,678.6 1341.3,673.9 1343.9,672.1 C1346.0,670.6 1349.2,671.4 1350.7,669.9 C1352.2,668.4 1351.5,665.1 1352.9,663.1 C1354.4,660.9 1358.2,659.9 1359.7,657.5 C1361.2,655.0 1360.3,650.8 1361.9,648.5 C1363.4,646.4 1366.4,644.1 1368.7,644.0 C1370.9,643.9 1373.1,646.6 1375.4,647.4 C1377.6,648.1 1379.9,648.1 1382.1,648.5 C1384.4,648.9 1387.0,650.3 1388.9,649.7 C1390.7,649.1 1391.6,646.8 1393.4,645.2 C1395.8,643.1 1399.5,639.7 1402.4,638.4 C1404.7,637.4 1406.8,638.1 1409.1,637.3 C1411.7,636.4 1414.4,634.5 1417.0,632.8 C1419.7,631.1 1422.2,628.8 1424.8,627.2 C1427.1,625.8 1429.5,625.3 1431.6,623.8 C1434.0,622.1 1435.9,619.5 1438.3,617.1 C1441.1,614.3 1444.0,610.9 1447.3,608.1 C1450.7,605.2 1454.7,602.6 1458.5,600.0 C1462.2,597.5 1465.7,594.2 1469.8,592.7 C1473.9,591.2 1479.8,592.6 1483.3,591.0 C1486.2,589.7 1487.2,586.7 1490.0,585.0 C1493.6,582.8 1499.3,581.5 1503.5,579.6 C1507.5,577.8 1511.5,576.4 1514.7,573.9 C1517.8,571.5 1520.6,567.6 1522.6,565.0 C1524.0,563.1 1524.8,561.3 1526.0,560.0 C1527.0,558.9 1527.7,558.5 1529.0,557.5 C1531.0,556.0 1534.3,552.2 1536.9,551.9 C1539.2,551.7 1541.6,555.1 1543.6,554.7 C1545.7,554.2 1546.9,549.9 1549.2,548.5 C1551.7,547.0 1555.7,546.3 1558.2,546.3 C1560.0,546.3 1560.8,547.4 1562.7,547.4 C1566.0,547.4 1572.0,545.7 1576.2,544.0 C1580.2,542.3 1583.2,539.4 1587.4,537.3 C1592.4,534.8 1602.0,533.1 1604.3,530.6 C1605.3,529.5 1604.5,527.5 1605.4,527.2 C1606.9,526.7 1612.9,530.2 1614.4,532.8 C1615.8,535.2 1614.0,541.6 1614.9,541.8 C1616.0,542.1 1619.0,534.7 1621.1,531.7 C1622.9,529.1 1624.2,526.7 1626.7,524.9 C1629.6,522.8 1634.9,520.7 1638.0,520.4 C1640.2,520.2 1641.4,521.3 1643.6,521.6 C1646.7,522.0 1651.4,523.1 1654.8,522.1 C1658.1,521.2 1661.0,518.3 1663.8,516.0 C1666.6,513.7 1668.5,509.8 1671.7,508.1 C1674.9,506.4 1679.2,507.1 1682.9,505.8 C1686.7,504.5 1690.4,502.1 1694.2,500.2 C1697.9,498.3 1701.4,496.7 1705.4,494.6 C1710.0,492.2 1716.3,490.0 1720.0,486.7 C1723.1,484.0 1724.2,479.4 1726.7,477.2 C1728.8,475.4 1730.9,474.2 1733.5,473.8 C1736.8,473.3 1742.0,476.6 1745.0,475.8 C1747.3,475.2 1748.0,472.9 1750.3,471.6 C1753.4,469.8 1758.5,469.3 1762.4,467.1 C1766.7,464.6 1770.2,460.1 1774.9,457.1 C1780.1,453.8 1788.3,448.3 1792.4,448.3 C1794.6,448.3 1795.2,450.9 1797.4,450.8 C1801.5,450.7 1810.5,444.3 1814.9,440.9 C1818.1,438.4 1819.2,435.4 1822.4,433.4 C1826.3,431.0 1832.6,430.4 1837.3,428.4 C1841.7,426.6 1845.3,424.4 1849.8,422.1 C1855.1,419.4 1861.6,415.3 1867.3,413.4 C1872.4,411.8 1877.7,412.8 1882.3,410.9 C1886.9,409.0 1890.4,403.6 1894.8,402.2 C1898.8,401.0 1902.8,403.1 1907.3,402.2 C1913.0,401.1 1922.9,395.9 1926.0,394.7"/>
<path stroke="#ff00ff" d="M586.9,633.3 L588.8,633.9 L590.8,634.6 L592.7,635.2 L594.6,635.9 L596.5,636.5 L598.5,637.2 L600.4,637.8 L602.3,638.5 L604.2,639.1 L606.1,639.8 L608.0,640.5 L609.9,641.1 L611.8,641.8 L613.7,642.5 L615.6,643.2 L617.5,643.9 L619.4,644.5 L621.3,645.2 L623.2,645.9 L625.1,646.6 L627.0,647.3 L628.8,648.0 L630.7,648.7 L632.6,649.4 L634.5,650.1 L636.4,650.8 L638.2,651.5 L640.1,652.2 L642.0,652.9 L643.8,653.7 L645.7,654.4 L647.6,655.1 L649.4,655.8 L651.3,656.6 L653.1,657.3 L655.0,658.1 L656.8,658.8 L658.7,659.5 L660.5,660.3 L662.4,661.0 L664.2,661.8 L666.1,662.5 L667.9,663.3 L669.8,664.1 L671.6,664.8 L673.4,665.6 L675.3,666.4 L677.1,667.2 L678.9,667.9 L680.8,668.7 L682.6,669.5 L684.4,670.3 L686.3,671.1 L688.1,671.9 L689.9,672.7 L691.7,673.5 L693.6,674.3 L695.4,675.1 L697.2,675.9 L699.0,676.7 L700.8,677.6 L702.6,678.4 L704.5,679.2 L706.3,680.0 L708.1,680.9 L709.9,681.7 L711.7,682.5 L713.5,683.4 L715.3,684.2 L717.1,685.1 L718.9,685.9 L720.7,686.8 L722.5,687.7 L724.3,688.5 L726.1,689.4 L727.9,690.3 L729.7,691.1 L731.5,692.0 L733.3,692.9 L735.1,693.8 L736.9,694.7 L738.7,695.6 L740.5,696.5 L742.3,697.4 L744.1,698.3 L745.9,699.2 L747.7,700.1 L749.5,701.0 L751.3,702.0 L753.1,702.9 L754.8,703.8 L756.6,704.7 L758.4,705.7 L760.2,706.6 L762.0,707.6 L763.8,708.5 L765.5,709.5 L767.3,710.4 L769.1,711.4 L770.9,712.4 L772.6,713.3 L774.4,714.3 L776.2,715.3 L777.9,716.3 L779.7,717.3 L781.4,718.3 L783.2,719.3 L784.9,720.3 L786.7,721.3 L788.4,722.3 L790.2,723.3 L791.9,724.3 L793.7,725.4 L795.4,726.4 L797.1,727.4 L798.9,728.5 L800.6,729.5 L802.3,730.6 L804.0,731.6 L805.8,732.7 L807.5,733.8 L809.2,734.8 L810.9,735.9 L812.6,737.0 L814.3,738.1 L816.0,739.2 L817.7,740.3 L819.4,741.4 L821.1,742.5 L822.7,743.6 L824.4,744.8 L826.1,745.9 L827.7,747.0 L829.4,748.2 L831.1,749.3 L832.7,750.5 L834.4,751.6 L836.0,752.8 L837.6,754.0 L839.3,755.1 L840.9,756.3 L842.5,757.5 L844.1,758.7 L845.7,759.9 L847.4,761.1 L849.0,762.3 L850.6,763.5 L852.1,764.8 L853.7,766.0 L855.3,767.2 L856.9,768.5 L858.4,769.7 L860.0,771.0 L861.6,772.2 L863.1,773.5 L864.7,774.8 L866.2,776.1 L867.7,777.4 L869.2,778.7 L870.8,780.0 L872.3,781.3 L873.8,782.6 L875.3,783.9 L876.8,785.2 L878.3,786.6 L879.7,787.9 L881.2,789.3 L882.7,790.6 L884.1,792.0 L885.6,793.4 L887.0,794.8 L888.5,796.2 L889.9,797.5 L891.3,799.0 L892.7,800.4 L894.1,801.8 L895.5,803.2 L896.9,804.6 L898.3,806.1 L899.7,807.5 L901.0,809.0 L902.4,810.4 L903.7,811.9 L905.1,813.4 L906.4,814.9 L907.7,816.4 L909.0,817.9 L910.4,819.4 L911.7,820.9 L912.9,822.4 L914.2,824.0 L915.5,825.5 L916.8,827.1 L918.0,828.6 L919.3,830.2 L920.5,831.7 L921.7,833.3 L922.9,834.9 L924.1,836.5 L925.3,838.1 L926.5,839.7 L927.7,841.4 L928.9,843.0 L930.0,844.6 L931.2,846.3 L932.3,847.9 L933.4,849.6 L934.6,851.2 L935.7,852.9 L936.7,854.6 L937.8,856.3 L938.9,858.0 L939.9,859.7 L941.0,861.4 L942.0,863.1 L943.0,864.8 L944.0,866.6 L945.0,868.3 L946.0,870.1 L947.0,871.8 L947.9,873.6 L948.9,875.3 L949.8,877.1 L950.7,878.9 L951.6,880.7 L952.5,882.5 L953.4,884.3 L954.3,886.1 L955.1,887.9 L955.9,889.7 L956.8,891.5 L957.6,893.3 L958.4,895.2 L959.2,897.0 L959.9,898.9 L960.7,900.7 L961.5,902.6 L962.2,904.4 L962.9,906.3 L963.6,908.2 L964.3,910.0 L965.0,911.9 L965.7,913.8 L966.4,915.7 L967.0,917.6 L967.7,919.5 L968.3,921.4 L968.9,923.3 L969.5,925.2 L970.1,927.1 L970.7,929.0 L971.3,930.9 L971.9,932.8 L972.4,934.8 L973.0,936.7 L973.5,938.6 L974.1,940.6 L974.6,942.5 L975.1,944.4 L975.6,946.4 L976.1,948.3 L976.5,950.3 L977.0,952.2 L977.5,954.2 L977.9,956.1 L978.4,958.1 L978.8,960.0 L979.2,962.0 L979.6,964.0 L980.0,965.9 L980.4,967.9 L980.8,969.9 L981.2,971.8 L981.6,973.8 L981.9,975.8 L982.3,977.8 L982.6,979.7 L983.0,981.7 L983.3,983.7 L983.6,985.7 L983.9,987.7 L984.2,989.7 L984.5,991.6 L984.8,993.6 L985.1,995.6 L985.4,997.6 L985.7,999.6 L985.9,1001.6 L986.2,1003.6 L986.4,1005.6 L986.7,1007.6 L986.9,1009.6 L987.2,1011.6 L987.4,1013.6 L987.6,1015.6 L987.8,1017.6 L988.0,1019.6 L988.2,1021.6 L988.4,1023.6 L988.6,1025.6 L988.8,1027.6 L989.0,1029.6 L989.2,1031.6 L989.4,1033.7 L989.5,1035.7 L989.7,1037.7 L989.9,1039.7 L990.0,1041.7 L990.2,1043.7 L990.3,1045.7 L990.5,1047.7 L990.6,1049.7 L990.7,1051.8 L990.9,1053.8 L991.0,1055.8 L991.1,1057.8 L991.2,1059.8 L991.3,1061.8 L991.5,1063.8 L991.6,1065.8 L991.7,1067.8 L991.8,1069.9 L991.9,1071.9 L992.0,1073.9 L992.1,1075.9 L992.2,1077.9 L992.3,1079.9 L992.4,1081.9 L992.5,1083.9 L992.5,1085.9 L992.6,1087.9 L992.7,1089.9 L992.8,1091.9 L992.9,1093.9 L992.9,1095.9 L993.0,1097.9 L993.1,1099.9 L993.2,1101.9 L993.3,1103.9 L993.3,1105.9 L993.4,1107.9 L993.5,1109.9 L993.5,1111.9 L993.6,1113.9 L993.7,1115.9 L993.8,1117.9 L993.8,1119.9 L993.9,1121.9 L994.0,1123.9 L994.1,1125.8 L994.1,1127.8 L994.2,1129.8 L993.8,1270.5 L995.3,1120.0 L995.3,1120.0 L995.2,1117.9 L995.1,1115.9 L995.0,1113.8 L995.0,1111.7 L994.9,1109.7 L994.9,1107.6 L994.8,1105.6 L994.8,1103.5 L994.8,1101.5 L994.8,1099.4 L994.7,1097.4 L994.7,1095.3 L994.8,1093.3 L994.8,1091.3 L994.8,1089.3 L994.8,1087.2 L994.9,1085.2 L994.9,1083.2 L995.0,1081.2 L995.1,1079.2 L995.1,1077.2 L995.2,1075.1 L995.3,1073.1 L995.4,1071.1 L995.5,1069.1 L995.6,1067.1 L995.7,1065.1 L995.9,1063.1 L996.0,1061.1 L996.1,1059.1 L996.3,1057.1 L996.4,1055.1 L996.6,1053.1 L996.8,1051.1 L996.9,1049.1 L997.1,1047.1 L997.3,1045.2 L997.5,1043.2 L997.7,1041.2 L997.9,1039.2 L998.1,1037.2 L998.3,1035.2 L998.5,1033.2 L998.7,1031.2 L998.9,1029.2 L999.2,1027.2 L999.4,1025.2 L999.6,1023.2 L999.9,1021.2 L1000.1,1019.2 L1000.4,1017.2 L1000.6,1015.2 L1000.9,1013.1 L1001.2,1011.1 L1001.4,1009.1 L1001.7,1007.1 L1002.0,1005.1 L1002.3,1003.1 L1002.6,1001.0 L1002.8,999.0 L1003.1,997.0 L1003.4,994.9 L1003.7,992.9 L1004.0,990.9 L1004.4,988.8 L1004.7,986.8 L1005.0,984.8 L1005.3,982.7 L1005.7,980.7 L1006.1,978.7 L1006.4,976.6 L1006.8,974.6 L1007.2,972.6 L1007.6,970.6 L1008.0,968.6 L1008.5,966.6 L1008.9,964.6 L1009.4,962.6 L1009.9,960.6 L1010.4,958.6 L1010.9,956.6 L1011.4,954.7 L1012.0,952.7 L1012.6,950.8 L1013.2,948.8 L1013.8,946.9 L1014.4,945.0 L1015.1,943.1 L1015.8,941.2 L1016.5,939.3 L1017.2,937.4 L1018.0,935.5 L1018.7,933.7 L1019.6,931.9 L1020.4,930.0 L1021.3,928.2 L1022.2,926.4 L1023.1,924.7 L1024.0,922.9 L1025.0,921.2 L1026.0,919.4 L1027.1,917.7 L1028.2,916.0 L1029.3,914.4 L1030.4,912.7 L1031.5,911.1 L1032.7,909.4 L1033.9,907.8 L1035.2,906.2 L1036.4,904.7 L1037.7,903.1 L1039.0,901.6 L1040.3,900.1 L1041.7,898.6 L1043.0,897.1 L1044.4,895.6 L1045.9,894.2 L1047.3,892.8 L1048.8,891.3 L1050.2,890.0 L1051.7,888.6 L1053.2,887.2 L1054.8,885.9 L1056.3,884.6 L1057.9,883.3 L1059.5,882.0 L1061.1,880.8 L1062.7,879.5 L1064.4,878.3 L1066.0,877.1 L1067.6,875.9 L1069.3,874.7 L1071.0,873.6 L1072.6,872.4 L1074.3,871.2 L1076.0,870.1 L1077.6,868.9 L1079.3,867.8 L1080.9,866.6 L1082.6,865.4 L1084.2,864.3 L1085.8,863.1 L1087.4,861.9 M1087.4,861.9 C1087.5,861.0 1087.5,858.4 1088.2,856.7 C1089.0,854.6 1091.3,852.8 1092.6,850.6 C1093.9,848.4 1094.5,844.6 1096.1,843.6 C1097.3,842.9 1099.1,844.2 1100.5,843.6 C1102.4,842.7 1104.1,837.4 1105.7,837.5 C1107.3,837.6 1108.2,842.2 1110.0,843.6 C1111.7,844.9 1114.3,846.1 1116.2,845.6 C1118.3,845.1 1120.1,842.2 1121.8,840.0 C1123.8,837.5 1125.3,833.4 1127.4,831.0 C1129.1,829.1 1131.1,828.4 1133.0,826.5 C1135.6,823.9 1138.8,819.8 1140.9,816.4 C1142.8,813.4 1144.3,810.6 1145.4,807.4 C1146.6,803.9 1146.9,800.3 1147.6,796.2 C1148.4,791.2 1148.6,783.8 1149.9,779.3 C1150.8,776.1 1152.1,774.0 1153.3,771.5 C1154.4,769.1 1155.7,767.4 1156.6,764.7 C1157.8,761.0 1157.8,754.9 1158.9,751.2 C1159.7,748.4 1161.1,747.0 1162.0,744.0 C1163.4,739.6 1163.5,731.8 1165.6,727.2 C1167.3,723.5 1170.5,721.3 1172.4,718.2 C1174.2,715.3 1175.7,712.6 1176.9,709.2 C1178.4,705.2 1177.9,699.1 1180.2,695.7 C1182.2,692.6 1186.5,690.5 1189.2,689.0 C1191.2,687.9 1193.0,687.9 1194.8,686.7 C1197.1,685.2 1199.9,682.4 1201.6,680.0 C1203.1,677.9 1203.0,675.2 1204.9,673.3 C1207.5,670.8 1213.9,669.5 1217.3,667.6 C1219.9,666.1 1222.2,665.1 1224.0,663.1 C1225.9,661.0 1227.3,658.3 1228.5,655.3 C1230.0,651.7 1230.6,643.0 1231.9,642.9 C1232.9,642.8 1233.8,649.4 1235.3,649.7 C1236.6,650.0 1238.1,647.8 1239.8,646.3 C1242.4,643.9 1247.0,639.6 1248.8,636.2 C1250.2,633.6 1249.6,630.4 1251.0,628.3 C1252.3,626.3 1255.1,625.7 1256.6,623.8 C1258.2,621.7 1258.2,616.9 1260.0,616.0 C1261.4,615.2 1264.0,617.7 1265.6,617.1 C1267.4,616.4 1268.2,612.1 1270.1,611.5 C1272.0,610.9 1274.6,614.2 1276.9,613.7 C1280.1,613.0 1284.0,607.5 1287.0,604.7 C1289.5,602.3 1291.4,599.1 1293.7,598.0 C1295.4,597.2 1297.2,598.2 1299.0,597.5 C1301.5,596.5 1304.4,591.8 1306.9,591.6 C1309.0,591.5 1311.3,595.3 1313.0,595.0 C1314.6,594.8 1315.6,592.7 1317.0,590.8 C1319.1,587.9 1321.0,579.6 1323.7,578.4 C1325.4,577.6 1327.5,579.8 1329.3,579.6 C1331.2,579.4 1332.7,577.2 1334.9,577.3 C1338.0,577.4 1342.4,581.4 1346.2,582.9 C1349.9,584.4 1353.7,586.3 1357.4,586.3 C1361.2,586.3 1365.0,584.2 1368.7,582.9 C1372.5,581.6 1376.2,579.9 1379.9,578.4 C1383.6,576.9 1387.4,575.4 1391.1,573.9 C1394.9,572.4 1399.4,571.0 1402.4,569.4 C1404.7,568.2 1405.9,566.7 1408.0,565.5 C1410.3,564.2 1413.2,563.7 1415.8,562.1 C1418.8,560.3 1422.3,556.7 1424.8,554.8 C1426.5,553.5 1427.6,551.8 1429.3,551.5 C1431.3,551.2 1433.5,552.9 1436.1,553.7 C1439.4,554.7 1443.6,557.3 1447.3,557.1 C1451.1,556.9 1454.7,553.7 1458.5,552.6 C1462.2,551.5 1466.1,551.4 1469.8,550.3 C1473.6,549.2 1477.3,547.3 1481.0,545.8 C1484.7,544.3 1488.6,543.4 1492.2,541.3 C1496.1,539.0 1499.5,534.3 1503.5,532.4 C1507.1,530.7 1511.7,530.2 1514.7,530.1 C1516.8,530.1 1517.9,531.0 1520.0,531.0 C1523.0,531.0 1527.5,530.4 1531.2,529.4 C1535.0,528.4 1538.7,526.0 1542.5,524.9 C1546.2,523.8 1550.0,523.4 1553.7,522.7 C1557.4,522.1 1561.2,522.1 1564.9,521.0 C1568.7,519.9 1572.4,517.2 1576.2,516.0 C1579.9,514.8 1583.7,514.5 1587.4,513.7 C1591.2,512.9 1595.0,512.0 1598.7,511.0 C1602.5,510.0 1605.5,508.7 1609.9,507.5 C1616.1,505.8 1624.9,503.8 1632.4,502.2 C1639.9,500.7 1647.3,499.5 1654.8,498.2 C1662.3,496.9 1669.8,495.7 1677.3,494.5 C1684.8,493.3 1692.3,491.9 1699.8,491.0 C1707.3,490.1 1714.7,490.0 1722.2,489.2 C1729.7,488.4 1737.9,487.1 1744.7,486.2 C1750.3,485.4 1753.7,485.0 1760.0,484.0 C1770.2,482.4 1785.8,479.3 1799.9,477.0 C1815.6,474.5 1833.2,472.3 1849.8,469.6 C1866.5,466.9 1883.1,463.5 1899.8,460.8 C1916.4,458.1 1933.5,455.8 1949.7,453.3 C1965.1,450.9 1987.2,447.1 1994.7,445.9"/>
<path stroke="#008000" d="M547.1,574.4 L549.0,575.0 L551.0,575.5 L552.9,576.1 L554.8,576.7 L556.8,577.3 L558.7,577.9 L560.6,578.5 L562.5,579.2 L564.4,579.8 L566.4,580.4 L568.3,581.0 L570.2,581.7 L572.1,582.3 L574.0,583.0 L575.9,583.7 L577.8,584.3 L579.6,585.0 L581.5,585.7 L583.4,586.4 L585.3,587.1 L587.2,587.8 L589.1,588.5 L590.9,589.2 L592.8,589.9 L594.7,590.6 L596.5,591.4 L598.4,592.1 L600.3,592.8 L602.1,593.6 L604.0,594.3 L605.8,595.1 L607.7,595.9 L609.5,596.6 L611.4,597.4 L613.2,598.2 L615.0,599.0 L616.9,599.8 L618.7,600.6 L620.5,601.4 L622.4,602.2 L624.2,603.0 L626.0,603.8 L627.8,604.6 L629.7,605.4 L631.5,606.3 L633.3,607.1 L635.1,607.9 L636.9,608.8 L638.7,609.6 L640.5,610.5 L642.3,611.4 L644.1,612.2 L645.9,613.1 L647.7,614.0 L649.5,614.8 L651.3,615.7 L653.1,616.6 L654.9,617.5 L656.7,618.4 L658.5,619.3 L660.3,620.2 L662.1,621.1 L663.8,622.0 L665.6,622.9 L667.4,623.8 L669.2,624.8 L670.9,625.7 L672.7,626.6 L674.5,627.5 L676.3,628.5 L678.0,629.4 L679.8,630.4 L681.6,631.3 L683.3,632.3 L685.1,633.2 L686.8,634.2 L688.6,635.1 L690.3,636.1 L692.1,637.1 L693.9,638.0 L695.6,639.0 L697.4,640.0 L699.1,641.0 L700.8,641.9 L702.6,642.9 L704.3,643.9 L706.1,644.9 L707.8,645.9 L709.6,646.9 L711.3,647.9 L713.0,648.9 L714.8,649.9 L716.5,650.9 L718.2,651.9 L720.0,652.9 L721.7,653.9 L723.4,655.0 L725.2,656.0 L726.9,657.0 L728.6,658.0 L730.3,659.1 L732.1,660.1 L733.8,661.1 L735.5,662.2 L737.2,663.2 L738.9,664.3 L740.6,665.3 L742.3,666.4 L744.1,667.4 L745.8,668.5 L747.5,669.5 L749.2,670.6 L750.9,671.7 L752.6,672.7 L754.3,673.8 L756.0,674.9 L757.7,675.9 L759.4,677.0 L761.0,678.1 L762.7,679.2 L764.4,680.3 L766.1,681.4 L767.8,682.5 L769.5,683.6 L771.2,684.7 L772.8,685.8 L774.5,686.9 L776.2,688.0 L777.9,689.1 L779.5,690.2 L781.2,691.3 L782.9,692.5 L784.5,693.6 L786.2,694.7 L787.8,695.9 L789.5,697.0 L791.1,698.1 L792.8,699.3 L794.4,700.4 L796.1,701.6 L797.7,702.7 L799.4,703.9 L801.0,705.0 L802.7,706.2 L804.3,707.3 L805.9,708.5 L807.6,709.7 L809.2,710.9 L810.8,712.0 L812.4,713.2 L814.1,714.4 L815.7,715.6 L817.3,716.8 L818.9,718.0 L820.5,719.2 L822.1,720.4 L823.7,721.6 L825.3,722.8 L826.9,724.0 L828.5,725.2 L830.1,726.4 L831.7,727.6 L833.3,728.8 L834.9,730.1 L836.5,731.3 L838.1,732.5 L839.7,733.8 L841.2,735.0 L842.8,736.2 L844.4,737.5 L846.0,738.7 L847.5,740.0 L849.1,741.2 L850.6,742.5 L852.2,743.8 L853.8,745.0 L855.3,746.3 L856.9,747.6 L858.4,748.8 L859.9,750.1 L861.5,751.4 L863.0,752.7 L864.6,754.0 L866.1,755.3 L867.6,756.6 L869.1,757.9 L870.7,759.2 L872.2,760.5 L873.7,761.8 L875.2,763.1 L876.7,764.4 L878.2,765.7 L879.7,767.1 L881.2,768.4 L882.7,769.7 L884.2,771.1 L885.7,772.4 L887.2,773.7 L888.7,775.1 L890.1,776.4 L891.6,777.8 L893.1,779.1 L894.6,780.5 L896.0,781.9 L897.5,783.2 L899.0,784.6 L900.4,786.0 L901.9,787.4 L903.3,788.7 L904.8,790.1 L906.2,791.5 L907.6,792.9 L909.1,794.3 L910.5,795.7 L911.9,797.1 L913.4,798.5 L914.8,799.9 L916.2,801.3 L917.6,802.7 L919.0,804.2 L920.4,805.6 L921.8,807.0 L923.2,808.5 L924.6,809.9 L926.0,811.3 L927.4,812.8 L928.8,814.2 L930.1,815.7 L931.5,817.1 L932.9,818.6 L934.3,820.1 L935.6,821.5 L937.0,823.0 L938.3,824.5 L939.7,826.0 L941.0,827.5 L942.3,829.0 L943.7,830.5 L945.0,832.0 L946.3,833.5 L947.6,835.0 L948.9,836.5 L950.2,838.0 L951.6,839.5 L952.8,841.0 L954.1,842.6 L955.4,844.1 L956.7,845.7 L958.0,847.2 L959.3,848.8 L960.5,850.3 L961.8,851.9 L963.0,853.4 L964.3,855.0 L965.5,856.6 L966.8,858.1 L968.0,859.7 L969.2,861.3 L970.4,862.9 L971.7,864.5 L972.9,866.1 L974.1,867.7 L975.3,869.3 L976.5,870.9 L977.7,872.5 L978.9,874.1 L980.1,875.8 L981.3,877.4 L982.5,879.0 L983.7,880.6 L984.9,882.2 L986.0,883.9 L987.2,885.5 L988.4,887.1 L989.5,888.8 L990.7,890.4 L991.8,892.1 L992.9,893.7 L994.0,895.4 L995.1,897.1 L996.2,898.7 L997.3,900.4 L998.3,902.1 L999.3,903.8 L1000.4,905.6 L1001.3,907.3 L1002.3,909.0 L1003.2,910.8 L1004.2,912.5 L1005.1,914.3 L1006.0,916.1 L1006.8,917.9 L1007.7,919.7 L1008.5,921.5 L1009.3,923.3 L1010.1,925.1 L1010.9,926.9 L1011.7,928.8 L1012.4,930.6 L1013.2,932.5 L1013.9,934.3 L1014.6,936.2 L1015.3,938.1 L1015.9,939.9 L1016.6,941.8 L1017.2,943.7 L1017.9,945.6 L1018.5,947.5 L1019.1,949.4 L1019.7,951.3 L1020.2,953.3 L1020.8,955.2 L1021.4,957.1 L1021.9,959.0 L1022.4,961.0 L1022.9,962.9 L1023.4,964.8 L1023.9,966.8 L1024.4,968.7 L1024.9,970.7 L1025.4,972.6 L1025.8,974.6 L1026.3,976.5 L1026.7,978.5 L1027.2,980.5 L1027.6,982.4 L1028.0,984.4 L1028.4,986.3 L1028.8,988.3 L1029.2,990.3 L1029.6,992.3 L1029.9,994.2 L1030.3,996.2 L1030.7,998.2 L1031.0,1000.2 L1031.4,1002.1 L1031.7,1004.1 L1032.0,1006.1 L1032.3,1008.1 L1032.7,1010.1 L1033.0,1012.1 L1033.3,1014.0 L1033.5,1016.0 L1033.8,1018.0 L1034.1,1020.0 L1034.4,1022.0 L1034.6,1024.0 L1034.9,1026.0 L1035.1,1028.0 L1035.4,1030.0 L1035.6,1032.0 L1035.9,1034.0 L1036.1,1036.0 L1036.3,1038.0 L1036.5,1040.0 L1036.7,1042.0 L1036.9,1044.0 L1037.1,1046.0 L1037.3,1048.0 L1037.5,1050.0 L1037.7,1052.0 L1037.8,1054.0 L1038.0,1056.0 L1038.2,1058.0 L1038.3,1060.0 L1038.5,1062.0 L1038.6,1064.0 L1038.7,1066.0 L1038.9,1068.0 L1039.0,1070.0 L1039.1,1072.0 L1039.3,1074.0 L1039.4,1076.0 L1039.5,1078.0 L1039.6,1080.0 L1039.7,1082.0 L1039.8,1084.0 L1039.9,1086.0 L1040.0,1088.0 L1040.1,1090.0 L1040.2,1092.0 L1040.3,1094.0 L1040.3,1096.0 L1040.4,1098.0 L1040.5,1100.0 L1040.5,1102.0 L1040.6,1104.0 L1040.7,1106.0 L1040.7,1108.0 L1040.8,1110.0 L1040.8,1112.0 L1040.9,1114.0 L1040.9,1116.0 L1041.0,1118.0 L1041.0,1120.0 L1040.4,1258.5 L1042.9,1119.8 L1042.9,1119.8 L1043.0,1117.8 L1043.1,1115.8 L1043.2,1113.8 L1043.2,1111.8 L1043.3,1109.8 L1043.4,1107.8 L1043.5,1105.8 L1043.5,1103.7 L1043.6,1101.7 L1043.7,1099.7 L1043.7,1097.7 L1043.8,1095.6 L1043.9,1093.6 L1044.0,1091.6 L1044.0,1089.5 L1044.1,1087.5 L1044.2,1085.4 L1044.3,1083.4 L1044.3,1081.3 L1044.4,1079.3 L1044.5,1077.2 L1044.6,1075.2 L1044.7,1073.1 L1044.8,1071.1 L1044.9,1069.0 L1045.0,1066.9 L1045.1,1064.9 L1045.2,1062.8 L1045.4,1060.8 L1045.5,1058.7 L1045.6,1056.7 L1045.8,1054.6 L1045.9,1052.5 L1046.1,1050.5 L1046.2,1048.4 L1046.4,1046.4 L1046.6,1044.3 L1046.8,1042.3 L1047.0,1040.2 L1047.2,1038.2 L1047.4,1036.1 L1047.6,1034.1 L1047.9,1032.0 L1048.1,1030.0 L1048.4,1028.0 L1048.6,1025.9 L1048.9,1023.9 L1049.2,1021.9 L1049.5,1019.8 L1049.8,1017.8 L1050.1,1015.8 L1050.5,1013.8 L1050.8,1011.8 L1051.2,1009.8 L1051.6,1007.8 L1052.0,1005.8 L1052.4,1003.8 L1052.8,1001.8 L1053.3,999.8 L1053.7,997.8 L1054.2,995.8 L1054.7,993.9 L1055.2,991.9 L1055.7,989.9 L1056.3,988.0 L1056.8,986.0 L1057.4,984.1 L1058.0,982.2 L1058.6,980.2 L1059.3,978.3 L1059.9,976.4 L1060.6,974.5 L1061.3,972.6 L1062.0,970.7 L1062.7,968.8 L1063.5,967.0 L1064.3,965.1 L1065.1,963.3 L1065.9,961.4 L1066.8,959.6 L1067.7,957.8 L1068.6,956.0 L1069.5,954.2 L1070.5,952.4 L1071.5,950.6 L1072.5,948.9 L1073.6,947.1 L1074.6,945.4 L1075.7,943.6 L1076.9,941.9 L1078.0,940.2 L1079.2,938.6 L1080.5,936.9 L1081.7,935.2 L1083.0,933.6 M1083.0,933.6 C1084.5,931.4 1088.8,924.9 1091.7,920.5 C1094.6,916.1 1097.4,911.6 1100.5,907.4 C1103.7,903.2 1106.7,898.9 1110.6,895.1 C1114.8,891.0 1121.3,887.7 1125.2,883.8 C1128.5,880.5 1129.7,876.3 1133.0,873.7 C1136.4,871.0 1141.1,870.4 1145.4,868.1 C1150.4,865.4 1156.3,861.0 1161.1,858.0 C1165.2,855.5 1169.5,853.9 1172.4,851.2 C1174.9,848.9 1175.4,845.1 1178.0,843.4 C1180.8,841.6 1185.9,842.5 1189.2,841.1 C1192.2,839.8 1194.4,837.6 1197.1,835.5 C1200.1,833.2 1203.7,830.7 1206.1,827.6 C1208.6,824.4 1209.3,817.6 1211.7,816.4 C1213.3,815.6 1215.4,817.9 1217.3,817.5 C1219.8,817.0 1223.5,814.3 1225.2,811.9 C1226.7,809.7 1225.9,805.9 1227.4,804.0 C1228.7,802.3 1231.4,802.3 1233.0,800.7 C1234.9,798.8 1235.1,795.0 1237.5,792.8 C1240.6,789.9 1246.8,788.6 1251.0,786.1 C1255.0,783.7 1258.5,780.8 1262.2,778.2 C1266.0,775.6 1269.8,773.2 1273.5,770.3 C1277.3,767.2 1282.5,763.8 1284.7,760.2 C1286.4,757.4 1285.6,752.7 1287.0,751.2 C1287.8,750.3 1288.8,750.9 1290.0,750.0 C1292.8,748.0 1297.0,739.9 1301.2,736.2 C1305.0,732.8 1310.5,731.4 1313.6,728.3 C1316.2,725.7 1317.0,722.5 1319.2,719.3 C1321.8,715.5 1325.0,710.5 1328.2,707.0 C1331.0,703.9 1334.3,700.8 1337.2,699.1 C1339.5,697.8 1342.0,698.3 1343.9,696.9 C1346.2,695.2 1347.5,691.8 1349.6,689.0 C1352.0,685.8 1354.9,680.5 1357.4,678.9 C1358.9,677.9 1360.2,678.5 1361.9,677.8 C1364.5,676.7 1368.1,674.2 1370.9,672.1 C1373.7,670.0 1376.7,668.0 1378.8,665.4 C1380.8,662.8 1382.1,659.8 1383.3,656.4 C1384.8,652.4 1384.2,645.7 1386.6,642.9 C1388.5,640.7 1391.9,639.5 1394.5,639.6 C1397.2,639.8 1400.1,644.3 1402.4,644.0 C1404.6,643.7 1406.6,640.7 1408.0,638.4 C1409.7,635.7 1409.6,631.5 1411.3,628.3 C1413.2,624.8 1416.0,619.6 1419.2,618.2 C1422.1,617.0 1426.3,618.6 1429.3,619.3 C1431.8,619.9 1433.6,621.7 1436.1,621.6 C1439.4,621.5 1444.4,618.0 1447.3,617.1 C1449.1,616.5 1450.2,616.6 1451.8,616.0 C1453.9,615.2 1456.5,614.3 1458.5,612.6 C1460.7,610.7 1461.7,606.9 1464.2,604.7 C1467.1,602.1 1471.5,600.2 1475.4,598.5 C1479.3,596.8 1484.9,596.6 1487.8,594.6 C1489.9,593.1 1490.0,590.3 1492.2,589.0 C1495.3,587.3 1501.8,588.6 1505.7,587.2 C1509.2,585.9 1511.6,583.1 1514.7,581.5 C1517.6,579.9 1520.8,577.8 1523.7,577.5 C1526.3,577.2 1528.4,578.9 1531.2,578.9 C1534.6,578.9 1538.8,577.5 1542.5,576.6 C1546.3,575.7 1550.1,574.1 1553.7,573.3 C1556.8,572.6 1560.4,573.3 1562.7,572.1 C1564.7,571.1 1565.3,568.7 1567.2,567.6 C1569.5,566.3 1573.6,566.3 1576.2,565.4 C1578.3,564.7 1579.4,563.8 1581.8,563.1 C1585.9,561.9 1593.6,560.5 1598.7,559.8 C1602.8,559.2 1606.6,559.9 1609.9,558.7 C1612.9,557.6 1614.8,553.8 1617.8,553.0 C1620.8,552.2 1625.3,553.2 1627.9,554.2 C1629.8,555.0 1630.8,557.7 1632.4,557.5 C1634.5,557.3 1636.4,551.7 1639.1,549.7 C1641.9,547.6 1645.8,546.8 1649.2,545.2 C1652.9,543.5 1656.5,540.5 1660.4,539.6 C1664.1,538.7 1668.1,540.7 1671.7,539.6 C1675.7,538.3 1678.9,533.9 1682.9,531.7 C1687.1,529.4 1691.7,527.4 1696.4,526.1 C1701.1,524.8 1706.6,525.2 1711.0,523.8 C1715.1,522.5 1718.4,519.7 1722.2,518.2 C1725.9,516.7 1729.9,515.8 1733.5,514.8 C1736.7,513.9 1739.7,512.5 1742.5,512.6 C1744.9,512.7 1747.0,514.1 1749.2,514.8 C1751.5,515.6 1754.1,517.5 1756.0,517.1 C1757.6,516.8 1758.1,514.9 1760.0,513.7 C1763.6,511.5 1771.3,509.3 1777.0,507.0 C1782.9,504.6 1788.3,501.5 1794.9,499.5 C1802.4,497.2 1811.7,497.1 1819.9,494.5 C1828.4,491.8 1836.4,486.4 1844.8,483.3 C1853.0,480.2 1863.3,476.0 1869.8,475.8 C1873.9,475.7 1876.5,478.5 1879.8,478.3 C1883.2,478.1 1886.7,476.7 1889.8,474.6 C1893.5,472.1 1895.9,464.4 1899.8,463.3 C1903.5,462.3 1908.1,466.9 1912.3,467.1 C1916.4,467.3 1921.6,466.0 1924.7,464.6 C1926.9,463.6 1927.6,461.2 1929.7,460.8 C1932.4,460.3 1935.9,463.0 1939.7,463.3 C1944.4,463.7 1953.3,462.3 1956.0,462.1"/>
</g>
<g stroke="#000" stroke-width="4.4" stroke-linecap="round" fill="none">
<line x1="299.7" y1="24.8" x2="299.7" y2="1409"/>
<line x1="2111.0" y1="24.8" x2="2111.0" y2="1395.4"/>
<line x1="299.7" y1="24.8" x2="2111.0" y2="24.8"/>
<line x1="299.7" y1="1380.9" x2="2111.0" y2="1380.9"/>
<line x1="286.8" y1="25.0" x2="299.7" y2="25.0"/>
<line x1="273.8" y1="100.5" x2="299.7" y2="100.5"/>
<line x1="286.8" y1="176.0" x2="299.7" y2="176.0"/>
<line x1="273.8" y1="251.6" x2="299.7" y2="251.6"/>
<line x1="286.8" y1="327.1" x2="299.7" y2="327.1"/>
<line x1="273.8" y1="402.6" x2="299.7" y2="402.6"/>
<line x1="286.8" y1="478.2" x2="299.7" y2="478.2"/>
<line x1="273.8" y1="553.7" x2="299.7" y2="553.7"/>
<line x1="286.8" y1="629.3" x2="299.7" y2="629.3"/>
<line x1="273.8" y1="704.8" x2="299.7" y2="704.8"/>
<line x1="286.8" y1="780.3" x2="299.7" y2="780.3"/>
<line x1="273.8" y1="855.9" x2="299.7" y2="855.9"/>
<line x1="286.8" y1="931.4" x2="299.7" y2="931.4"/>
<line x1="273.8" y1="1006.9" x2="299.7" y2="1006.9"/>
<line x1="286.8" y1="1082.5" x2="299.7" y2="1082.5"/>
<line x1="273.8" y1="1158.0" x2="299.7" y2="1158.0"/>
<line x1="286.8" y1="1233.6" x2="299.7" y2="1233.6"/>
<line x1="273.8" y1="1309.1" x2="299.7" y2="1309.1"/>
<line x1="286.8" y1="1384.6" x2="299.7" y2="1384.6"/>
<line x1="299.0" y1="1380.9" x2="299.0" y2="1407.6"/>
<line x1="463.6" y1="1380.9" x2="463.6" y2="1395.4"/>
<line x1="628.3" y1="1380.9" x2="628.3" y2="1407.6"/>
<line x1="793.0" y1="1380.9" x2="793.0" y2="1395.4"/>
<line x1="957.6" y1="1380.9" x2="957.6" y2="1407.6"/>
<line x1="1122.2" y1="1380.9" x2="1122.2" y2="1395.4"/>
<line x1="1286.9" y1="1380.9" x2="1286.9" y2="1407.6"/>
<line x1="1451.5" y1="1380.9" x2="1451.5" y2="1395.4"/>
<line x1="1616.2" y1="1380.9" x2="1616.2" y2="1407.6"/>
<line x1="1780.8" y1="1380.9" x2="1780.8" y2="1395.4"/>
<line x1="1945.5" y1="1380.9" x2="1945.5" y2="1407.6"/>
<line x1="2110.2" y1="1380.9" x2="2110.2" y2="1395.4"/>
</g>
<text transform="translate(255,113.7) scale(0.97,1)" font-size="54" text-anchor="end">-2</text>
<text transform="translate(255,264.8) scale(0.97,1)" font-size="54" text-anchor="end">-3</text>
<text transform="translate(255,415.8) scale(0.97,1)" font-size="54" text-anchor="end">-4</text>
<text transform="translate(255,566.9) scale(0.97,1)" font-size="54" text-anchor="end">-5</text>
<text transform="translate(255,718.0) scale(0.97,1)" font-size="54" text-anchor="end">-6</text>
<text transform="translate(255,869.1) scale(0.97,1)" font-size="54" text-anchor="end">-7</text>
<text transform="translate(255,1020.1) scale(0.97,1)" font-size="54" text-anchor="end">-8</text>
<text transform="translate(255,1171.2) scale(0.97,1)" font-size="54" text-anchor="end">-9</text>
<text transform="translate(255,1322.3) scale(0.97,1)" font-size="54" text-anchor="end">-10</text>
<text transform="translate(299.0,1466.2) scale(0.97,1)" font-size="54" text-anchor="middle">-2.5</text>
<text transform="translate(628.3,1466.2) scale(0.97,1)" font-size="54" text-anchor="middle">-2.0</text>
<text transform="translate(957.6,1466.2) scale(0.97,1)" font-size="54" text-anchor="middle">-1.5</text>
<text transform="translate(1286.9,1466.2) scale(0.97,1)" font-size="54" text-anchor="middle">-1.0</text>
<text transform="translate(1616.2,1466.2) scale(0.97,1)" font-size="54" text-anchor="middle">-0.5</text>
<text transform="translate(1945.5,1466.2) scale(0.97,1)" font-size="54" text-anchor="middle">0.0</text>
<text transform="translate(975.67,1571.5) scale(0.9558,1)" font-size="68">Potential(V/sce)</text>
<text transform="translate(80.3,1079.29) rotate(-90) scale(0.952,1)" font-size="68">Current density(A/cm<tspan font-size="40" dy="-34.7">2</tspan><tspan dy="34.7">)</tspan></text>
<rect x="1614.2" y="824.7" width="315.1" height="400.4" fill="none" stroke="#444" stroke-width="2"/>
<line x1="1636.5" y1="870.4" x2="1781" y2="870.4" stroke="#000000" stroke-width="4.2" stroke-linecap="round"/>
<text transform="translate(1795.00,892.7) scale(0.9507,1)" font-size="54">AZ31</text>
<line x1="1636.5" y1="949.9" x2="1781" y2="949.9" stroke="#ff0000" stroke-width="4.2" stroke-linecap="round"/>
<text transform="translate(1794.18,972.2) scale(0.9567,1)" font-size="54">C-0</text>
<line x1="1636.5" y1="1029.4" x2="1781" y2="1029.4" stroke="#0000ff" stroke-width="4.2" stroke-linecap="round"/>
<text transform="translate(1793.83,1051.7) scale(0.9719,1)" font-size="54">C-5</text>
<line x1="1636.5" y1="1108.9" x2="1781" y2="1108.9" stroke="#ff00ff" stroke-width="4.2" stroke-linecap="round"/>
<text transform="translate(1793.87,1131.2) scale(0.9608,1)" font-size="54">C-10</text>
<line x1="1636.5" y1="1188.4" x2="1781" y2="1188.4" stroke="#008000" stroke-width="4.2" stroke-linecap="round"/>
<text transform="translate(1793.86,1210.7) scale(0.9622,1)" font-size="54">C-15</text>
</svg>
</body></html>
